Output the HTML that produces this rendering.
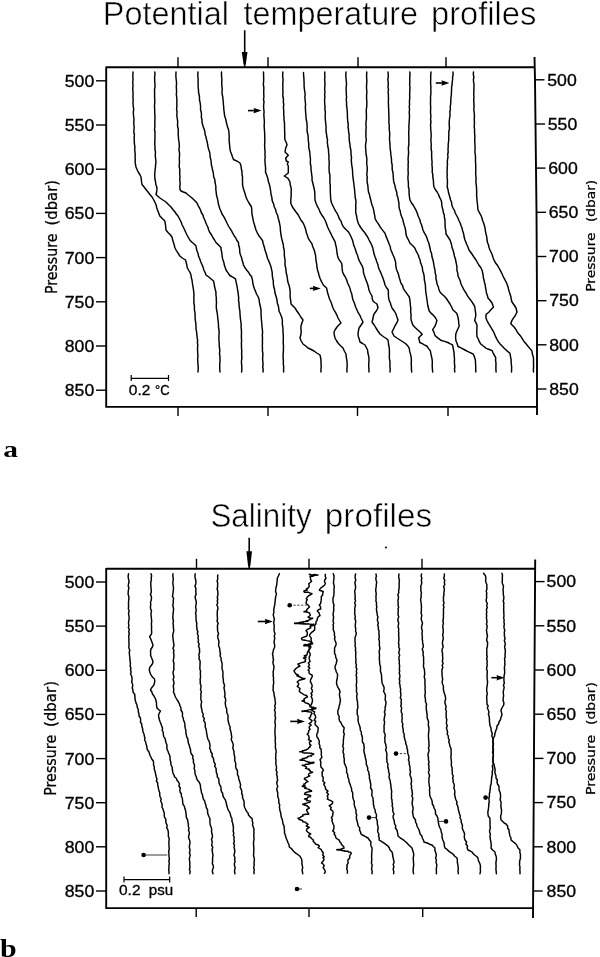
<!DOCTYPE html>
<html><head><meta charset="utf-8"><title>Potential temperature and salinity profiles</title>
<style>
html,body{margin:0;padding:0;background:#fff;}
body{width:600px;height:957px;overflow:hidden;}
svg{display:block;}
.c{fill:none;stroke:#000;stroke-width:1.45;stroke-linejoin:round;stroke-linecap:round;}
.cn{fill:none;stroke:#000;stroke-width:1.45;stroke-linejoin:round;}
.fr{fill:none;stroke:#000;stroke-width:1.9;}
.tk{stroke:#000;stroke-width:1.4;}
.ar{stroke:#000;stroke-width:1.6;}
.ah{fill:#000;}
.sbar{fill:none;stroke:#000;stroke-width:1.2;}
.thin{stroke:#222;stroke-width:0.9;}
.dash{stroke:#222;stroke-width:0.9;stroke-dasharray:2.2 1.6;}
text{font-family:"Liberation Sans",Arial,sans-serif;fill:#000;}
.tl{font-size:15.6px;stroke:#000;stroke-width:0.3px;}
.tt{font-size:32.5px;stroke:#fff;stroke-width:0.55px;}
.yl{font-size:14.2px;}
.sb{font-size:14.5px;stroke:#000;stroke-width:0.3px;}
.yt text{font-family:"DejaVu Sans","Liberation Sans",sans-serif;stroke:#000;stroke-width:0.25px;}
.pl{font-family:"Liberation Serif","Times New Roman",serif;font-weight:bold;font-size:21.8px;}
</style></head><body>
<svg width="600" height="957" viewBox="0 0 600 957">

<text x="102.8" y="25.0" class="tt" textLength="126.2" lengthAdjust="spacingAndGlyphs">Potential</text>
<text x="243.5" y="25.0" class="tt" textLength="174.4" lengthAdjust="spacingAndGlyphs">temperature</text>
<text x="431.0" y="25.0" class="tt" textLength="105.4" lengthAdjust="spacingAndGlyphs">profiles</text>
<text x="210.4" y="526.9" class="tt" textLength="101.2" lengthAdjust="spacingAndGlyphs">Salinity</text>
<text x="324.8" y="526.5" class="tt" textLength="107.4" lengthAdjust="spacingAndGlyphs">profiles</text>
<path d="M106.2 67.3 H534.7 M106.2 66.5 V406.9 H537.0" class="fr"/>
<path d="M534.5 57.0 L535.0 80.0 L536.5 212.0 L537.0 300.0 L537.0 415.0" class="fr"/>
<line x1="178.0" y1="67.3" x2="178.0" y2="57.3" class="tk"/>
<line x1="268.0" y1="67.3" x2="268.0" y2="57.3" class="tk"/>
<line x1="358.0" y1="67.3" x2="358.0" y2="57.3" class="tk"/>
<line x1="446.0" y1="67.3" x2="446.0" y2="57.3" class="tk"/>
<line x1="178.0" y1="406.9" x2="178.0" y2="415.9" class="tk"/>
<line x1="268.0" y1="406.9" x2="268.0" y2="415.9" class="tk"/>
<line x1="357.5" y1="406.9" x2="357.5" y2="415.9" class="tk"/>
<line x1="448.0" y1="406.9" x2="448.0" y2="415.9" class="tk"/>
<line x1="96.0" y1="80.8" x2="106.2" y2="80.8" class="tk"/>
<text x="94.3" y="86.7" class="tl" text-anchor="end" textLength="29.5" lengthAdjust="spacingAndGlyphs">500</text>
<line x1="96.0" y1="125.0" x2="106.2" y2="125.0" class="tk"/>
<text x="94.3" y="130.9" class="tl" text-anchor="end" textLength="29.5" lengthAdjust="spacingAndGlyphs">550</text>
<line x1="96.0" y1="169.2" x2="106.2" y2="169.2" class="tk"/>
<text x="94.3" y="175.1" class="tl" text-anchor="end" textLength="29.5" lengthAdjust="spacingAndGlyphs">600</text>
<line x1="96.0" y1="213.4" x2="106.2" y2="213.4" class="tk"/>
<text x="94.3" y="219.3" class="tl" text-anchor="end" textLength="29.5" lengthAdjust="spacingAndGlyphs">650</text>
<line x1="96.0" y1="257.6" x2="106.2" y2="257.6" class="tk"/>
<text x="94.3" y="263.5" class="tl" text-anchor="end" textLength="29.5" lengthAdjust="spacingAndGlyphs">700</text>
<line x1="96.0" y1="301.8" x2="106.2" y2="301.8" class="tk"/>
<text x="94.3" y="307.7" class="tl" text-anchor="end" textLength="29.5" lengthAdjust="spacingAndGlyphs">750</text>
<line x1="96.0" y1="346.0" x2="106.2" y2="346.0" class="tk"/>
<text x="94.3" y="351.9" class="tl" text-anchor="end" textLength="29.5" lengthAdjust="spacingAndGlyphs">800</text>
<line x1="96.0" y1="390.2" x2="106.2" y2="390.2" class="tk"/>
<text x="94.3" y="396.1" class="tl" text-anchor="end" textLength="29.5" lengthAdjust="spacingAndGlyphs">850</text>
<line x1="535.0" y1="79.8" x2="544.5" y2="79.8" class="tk"/>
<text x="547.3" y="85.5" class="tl" textLength="29.5" lengthAdjust="spacingAndGlyphs">500</text>
<line x1="535.5" y1="124.0" x2="545.0" y2="124.0" class="tk"/>
<text x="547.8" y="129.7" class="tl" textLength="29.5" lengthAdjust="spacingAndGlyphs">550</text>
<line x1="536.0" y1="168.1" x2="545.5" y2="168.1" class="tk"/>
<text x="548.3" y="173.8" class="tl" textLength="29.5" lengthAdjust="spacingAndGlyphs">600</text>
<line x1="536.5" y1="212.3" x2="546.0" y2="212.3" class="tk"/>
<text x="548.8" y="218.0" class="tl" textLength="29.5" lengthAdjust="spacingAndGlyphs">650</text>
<line x1="536.8" y1="256.5" x2="546.3" y2="256.5" class="tk"/>
<text x="549.1" y="262.2" class="tl" textLength="29.5" lengthAdjust="spacingAndGlyphs">700</text>
<line x1="537.0" y1="300.7" x2="546.5" y2="300.7" class="tk"/>
<text x="549.3" y="306.4" class="tl" textLength="29.5" lengthAdjust="spacingAndGlyphs">750</text>
<line x1="537.0" y1="344.8" x2="546.5" y2="344.8" class="tk"/>
<text x="549.3" y="350.5" class="tl" textLength="29.5" lengthAdjust="spacingAndGlyphs">800</text>
<line x1="537.0" y1="389.0" x2="546.5" y2="389.0" class="tk"/>
<text x="549.3" y="394.7" class="tl" textLength="29.5" lengthAdjust="spacingAndGlyphs">850</text>
<path d="M106.2 568.8 H535.1 M106.2 568.0 V908.1 H533.1" class="fr"/>
<path d="M535.2 559.6 L534.3 700.0 L533.0 918.0" class="fr"/>
<line x1="196.5" y1="568.8" x2="196.5" y2="558.8" class="tk"/>
<line x1="309.0" y1="568.8" x2="309.0" y2="558.8" class="tk"/>
<line x1="422.0" y1="568.8" x2="422.0" y2="558.8" class="tk"/>
<line x1="196.2" y1="908.1" x2="196.2" y2="917.1" class="tk"/>
<line x1="309.0" y1="908.1" x2="309.0" y2="917.1" class="tk"/>
<line x1="422.7" y1="908.1" x2="422.7" y2="917.1" class="tk"/>
<line x1="96.0" y1="582.0" x2="106.2" y2="582.0" class="tk"/>
<text x="94.3" y="587.9" class="tl" text-anchor="end" textLength="29.5" lengthAdjust="spacingAndGlyphs">500</text>
<line x1="96.0" y1="626.1" x2="106.2" y2="626.1" class="tk"/>
<text x="94.3" y="632.0" class="tl" text-anchor="end" textLength="29.5" lengthAdjust="spacingAndGlyphs">550</text>
<line x1="96.0" y1="670.3" x2="106.2" y2="670.3" class="tk"/>
<text x="94.3" y="676.2" class="tl" text-anchor="end" textLength="29.5" lengthAdjust="spacingAndGlyphs">600</text>
<line x1="96.0" y1="714.4" x2="106.2" y2="714.4" class="tk"/>
<text x="94.3" y="720.3" class="tl" text-anchor="end" textLength="29.5" lengthAdjust="spacingAndGlyphs">650</text>
<line x1="96.0" y1="758.6" x2="106.2" y2="758.6" class="tk"/>
<text x="94.3" y="764.5" class="tl" text-anchor="end" textLength="29.5" lengthAdjust="spacingAndGlyphs">700</text>
<line x1="96.0" y1="802.7" x2="106.2" y2="802.7" class="tk"/>
<text x="94.3" y="808.6" class="tl" text-anchor="end" textLength="29.5" lengthAdjust="spacingAndGlyphs">750</text>
<line x1="96.0" y1="846.8" x2="106.2" y2="846.8" class="tk"/>
<text x="94.3" y="852.7" class="tl" text-anchor="end" textLength="29.5" lengthAdjust="spacingAndGlyphs">800</text>
<line x1="96.0" y1="891.0" x2="106.2" y2="891.0" class="tk"/>
<text x="94.3" y="896.9" class="tl" text-anchor="end" textLength="29.5" lengthAdjust="spacingAndGlyphs">850</text>
<line x1="535.1" y1="581.6" x2="544.6" y2="581.6" class="tk"/>
<text x="546.6" y="587.3" class="tl" textLength="29.5" lengthAdjust="spacingAndGlyphs">500</text>
<line x1="534.8" y1="625.8" x2="544.3" y2="625.8" class="tk"/>
<text x="546.6" y="631.5" class="tl" textLength="29.5" lengthAdjust="spacingAndGlyphs">550</text>
<line x1="534.5" y1="670.0" x2="544.0" y2="670.0" class="tk"/>
<text x="546.6" y="675.7" class="tl" textLength="29.5" lengthAdjust="spacingAndGlyphs">600</text>
<line x1="534.2" y1="714.2" x2="543.7" y2="714.2" class="tk"/>
<text x="546.6" y="719.9" class="tl" textLength="29.5" lengthAdjust="spacingAndGlyphs">650</text>
<line x1="534.0" y1="758.4" x2="543.5" y2="758.4" class="tk"/>
<text x="546.6" y="764.1" class="tl" textLength="29.5" lengthAdjust="spacingAndGlyphs">700</text>
<line x1="533.7" y1="802.6" x2="543.2" y2="802.6" class="tk"/>
<text x="546.6" y="808.3" class="tl" textLength="29.5" lengthAdjust="spacingAndGlyphs">750</text>
<line x1="533.4" y1="846.8" x2="542.9" y2="846.8" class="tk"/>
<text x="546.6" y="852.5" class="tl" textLength="29.5" lengthAdjust="spacingAndGlyphs">800</text>
<line x1="533.2" y1="891.0" x2="542.7" y2="891.0" class="tk"/>
<text x="546.6" y="896.7" class="tl" textLength="29.5" lengthAdjust="spacingAndGlyphs">850</text>
<g transform="translate(57.0 294.1) rotate(-90)" style="font-size:15.0px" class="yt"><text x="0" y="0" textLength="60.5" lengthAdjust="spacingAndGlyphs">Pressure</text><text x="68.6" y="0" textLength="45.5" lengthAdjust="spacingAndGlyphs">(dbar)</text></g>
<g transform="translate(595.3 291.8) rotate(-90)" style="font-size:12.8px" class="yt"><text x="0" y="0" textLength="59.5" lengthAdjust="spacingAndGlyphs">Pressure</text><text x="69.8" y="0" textLength="42.2" lengthAdjust="spacingAndGlyphs">(dbar)</text></g>
<g transform="translate(56.2 795.8) rotate(-90)" style="font-size:15.0px" class="yt"><text x="0" y="0" textLength="61.0" lengthAdjust="spacingAndGlyphs">Pressure</text><text x="68.8" y="0" textLength="46.0" lengthAdjust="spacingAndGlyphs">(dbar)</text></g>
<g transform="translate(594.6 794.9) rotate(-90)" style="font-size:12.8px" class="yt"><text x="0" y="0" textLength="60.0" lengthAdjust="spacingAndGlyphs">Pressure</text><text x="70.0" y="0" textLength="42.8" lengthAdjust="spacingAndGlyphs">(dbar)</text></g>
<line x1="244.7" y1="30.3" x2="244.7" y2="67.0" class="ar"/><polygon points="241.8,52.0 247.5,52.0 245.8,64.5 243.6,64.5" class="ah"/>
<line x1="248.0" y1="110.6" x2="257.5" y2="110.6" class="ar"/><polygon points="261.5,110.6 253.5,107.9 254.3,110.6 253.5,113.3" class="ah"/>
<line x1="435.8" y1="83.0" x2="445.4" y2="83.0" class="ar"/><polygon points="449.4,83.0 441.4,80.3 442.2,83.0 441.4,85.7" class="ah"/>
<line x1="309.8" y1="288.4" x2="316.8" y2="288.4" class="ar"/><polygon points="320.8,288.4 312.8,285.7 313.6,288.4 312.8,291.1" class="ah"/>
<line x1="249.2" y1="537.8" x2="249.2" y2="568.8" class="ar"/><polygon points="246.4,551.3 252.0,551.3 250.3,566.3 248.1,566.3" class="ah"/>
<line x1="257.8" y1="621.5" x2="268.8" y2="621.5" class="ar"/><polygon points="272.8,621.5 264.8,618.8 265.6,621.5 264.8,624.2" class="ah"/>
<line x1="290.2" y1="721.4" x2="301.0" y2="721.4" class="ar"/><polygon points="305.0,721.4 297.0,718.7 297.8,721.4 297.0,724.1" class="ah"/>
<line x1="491.4" y1="677.7" x2="500.5" y2="677.7" class="ar"/><polygon points="504.5,677.7 496.5,675.0 497.3,677.7 496.5,680.4" class="ah"/>
<path d="M131.2 378.3 H168.5 M131.2 375 V381 M168.5 375 V381" class="sbar"/>
<text x="128.8" y="395" class="sb" textLength="21.6" lengthAdjust="spacingAndGlyphs">0.2</text>
<text x="155" y="395" class="sb" textLength="14.6" lengthAdjust="spacingAndGlyphs">°C</text>
<path d="M124 879.7 H169.7 M124 876.5 V882.5 M169.7 876.5 V882.5" class="sbar"/>
<text x="119" y="895.3" class="sb" textLength="21.5" lengthAdjust="spacingAndGlyphs">0.2</text>
<text x="148.8" y="895.3" class="sb" textLength="24.4" lengthAdjust="spacingAndGlyphs">psu</text>
<text x="0" y="0" class="pl" transform="translate(3.2 457.3) scale(1.28 1)" style="font-size:23px">a</text>
<text x="0" y="0" class="pl" transform="translate(0 956.8) scale(1.2 1)" style="font-size:25px">b</text>
<path d="M133.0 72.0 132.9 74.5 132.8 77.0 133.1 79.5 132.7 82.0 133.0 84.5 132.9 87.0 132.7 89.5 133.0 92.0 133.1 94.5 132.9 97.0 133.2 99.5 133.0 102.0 133.1 104.5 133.4 107.0 133.7 109.5 133.3 112.0 133.4 114.5 133.7 117.0 134.0 119.5 133.8 122.0 133.8 124.5 134.2 127.0 134.0 129.5 133.8 132.0 134.4 134.5 134.2 137.0 134.2 139.5 134.3 142.0 134.5 144.5 134.9 147.0 134.7 149.5 135.0 152.0 135.2 154.5 135.1 157.0 135.3 159.5 135.1 162.0 135.5 164.5 136.0 167.0 137.0 169.5 138.2 172.0 139.8 174.5 141.0 177.0 141.3 179.5 141.6 182.0 142.0 184.5 144.1 187.0 146.0 189.5 148.0 192.0 149.9 194.5 152.0 197.0 153.5 199.5 154.8 202.0 156.0 204.5 156.6 207.2 157.5 210.0 158.7 213.0 159.8 216.0 162.3 218.5 164.8 221.0 165.4 224.0 165.7 227.0 166.0 230.0 168.0 232.5 170.5 235.0 172.2 237.5 172.6 240.0 173.5 242.5 174.3 245.0 174.8 247.5 176.2 250.3 178.1 253.2 179.8 256.0 182.3 258.0 185.5 260.0 186.2 262.5 186.8 265.0 187.2 267.5 188.5 270.0 190.0 272.5 191.0 275.0 191.3 277.5 192.0 280.0 192.3 282.5 192.7 285.0 193.1 287.5 193.5 290.0 193.8 292.5 194.0 295.0 193.8 297.5 194.0 300.0 193.8 302.5 194.3 305.0 194.4 307.5 194.4 310.0 195.0 312.7 195.1 315.3 195.1 318.0 195.4 320.7 195.8 323.3 196.0 326.0 196.0 328.8 196.6 331.6 196.8 334.4 197.1 337.2 197.6 340.0 197.4 342.7 197.8 345.3 197.5 348.0 197.6 350.7 197.7 353.3 198.0 356.0 197.6 358.7 197.8 361.3 197.9 364.0 198.2 366.7 198.2 369.3 198.0 372.0" class="c"/>
<path d="M154.8 72.0 155.0 74.5 154.6 77.0 154.7 79.5 154.7 82.0 155.0 84.5 155.0 87.0 154.5 89.5 154.6 92.0 154.6 94.5 154.6 97.0 154.7 99.5 154.8 102.0 154.6 104.5 154.5 107.0 154.7 109.5 154.7 112.0 154.8 114.5 155.0 117.0 154.9 119.5 154.8 122.0 154.8 124.5 154.9 127.0 154.5 129.5 155.0 132.0 154.9 134.5 155.0 137.0 154.9 139.5 154.8 142.0 154.8 144.5 155.0 147.0 155.0 149.5 155.5 152.0 155.3 154.5 155.4 157.0 155.7 159.5 156.0 162.0 155.6 164.5 155.5 167.0 155.1 169.5 154.9 172.0 154.7 174.5 154.8 177.0 155.0 179.5 155.6 182.0 155.8 184.5 156.8 187.0 157.0 189.5 156.6 192.0 156.0 194.5 157.8 196.2 160.0 198.0 162.9 200.0 166.0 202.0 168.4 204.5 171.0 207.0 172.9 209.5 175.0 212.0 176.3 214.0 178.0 216.0 179.6 219.0 181.1 222.0 182.2 225.0 183.5 227.5 184.7 230.0 185.8 232.5 187.0 235.0 188.4 237.5 189.8 240.0 191.7 242.0 194.1 244.0 196.0 246.0 196.4 248.5 197.0 251.0 198.1 253.5 198.5 256.0 199.8 259.0 200.8 262.0 202.2 265.0 203.2 267.5 203.8 270.0 205.1 272.5 206.0 275.0 208.8 277.0 211.2 279.0 213.5 281.0 214.2 283.9 214.6 286.8 215.3 289.6 216.0 292.5 215.9 295.0 216.3 297.5 216.3 300.0 216.5 302.5 216.3 305.0 216.3 307.5 216.6 310.0 217.1 312.5 217.5 315.0 217.7 317.5 218.0 320.0 218.3 322.5 218.5 325.0 218.5 327.5 219.0 330.0 219.1 332.6 219.0 335.2 218.9 337.9 219.0 340.5 219.2 343.1 219.2 345.8 219.6 348.4 219.8 351.0 219.5 353.6 219.9 356.2 220.0 358.9 220.0 361.5 219.7 364.1 219.7 366.8 219.8 369.4 220.0 372.0" class="c"/>
<path d="M176.0 72.0 175.9 74.5 175.9 77.0 176.2 79.5 176.5 82.0 176.5 84.5 176.3 87.0 176.5 89.5 176.6 92.0 176.3 94.5 176.7 97.0 176.9 99.5 176.8 102.0 176.9 104.5 176.8 107.0 176.6 109.5 177.1 112.0 176.8 114.5 177.0 117.0 177.4 119.5 177.7 122.0 177.5 124.5 177.7 127.0 178.3 129.5 178.3 132.0 178.2 134.5 178.4 137.0 178.6 139.5 179.0 142.0 179.3 144.5 179.3 147.0 178.9 149.5 179.4 152.0 179.6 154.5 179.4 157.0 179.3 159.5 179.5 162.0 179.3 164.5 179.2 167.0 179.9 169.5 179.7 172.0 179.7 174.5 180.0 177.0 179.7 179.5 180.1 182.0 180.1 184.5 179.8 187.0 180.0 189.5 181.0 191.0 183.4 192.0 186.0 193.0 187.9 194.7 189.8 196.3 192.0 198.0 194.6 200.5 197.0 203.0 198.0 205.3 199.3 207.7 200.5 210.0 201.3 212.5 202.9 215.0 203.6 217.5 204.8 220.0 205.7 222.5 206.8 225.0 208.0 227.5 208.7 230.0 209.8 232.5 211.6 235.0 212.9 237.5 214.5 240.0 216.0 242.5 218.5 245.0 221.0 247.5 221.1 250.0 221.8 252.5 222.0 255.0 222.3 257.5 223.0 260.0 223.9 262.5 224.3 265.0 225.2 267.5 226.0 270.0 228.0 272.8 229.8 275.5 232.7 277.1 235.5 278.8 236.0 281.7 236.7 284.6 237.2 287.5 238.0 292.0 238.3 294.8 238.7 297.5 238.5 300.2 239.0 303.0 239.1 305.8 239.4 308.5 239.9 311.2 240.0 314.0 240.2 316.7 240.5 319.3 240.9 322.0 241.2 324.7 241.1 327.3 241.4 330.0 241.5 332.6 241.4 335.2 241.4 337.9 241.6 340.5 241.4 343.1 241.5 345.8 241.5 348.4 241.8 351.0 241.6 353.6 241.8 356.2 241.8 358.9 241.4 361.5 241.6 364.1 241.8 366.8 241.8 369.4 241.6 372.0" class="c"/>
<path d="M198.0 72.0 197.8 74.5 197.9 77.0 198.2 79.5 198.0 82.0 198.2 84.5 198.1 87.0 198.5 89.5 198.5 92.0 199.0 94.5 199.5 97.0 199.4 99.5 200.0 102.0 200.4 104.5 200.6 107.0 200.5 109.5 201.2 112.0 201.5 114.5 201.3 117.0 202.0 119.5 202.0 122.0 202.6 124.5 203.3 127.0 204.3 129.5 204.9 132.0 205.1 134.5 206.0 137.0 206.5 139.5 207.2 142.0 207.6 144.5 208.1 147.0 208.7 149.5 209.6 152.0 210.0 154.5 210.1 157.0 210.8 159.5 211.2 162.0 211.3 164.5 212.0 167.0 212.4 169.5 213.1 172.0 213.5 174.5 213.7 177.0 214.8 179.5 215.0 182.0 215.5 184.5 215.9 187.0 215.8 189.5 216.2 192.0 216.4 194.5 217.0 197.0 217.8 200.0 218.2 203.0 219.0 206.0 219.8 208.7 221.0 211.3 222.0 214.0 223.6 216.3 224.9 218.7 226.0 221.0 227.2 223.5 228.5 226.0 230.0 228.5 231.6 230.8 232.7 233.2 234.0 235.5 235.6 237.8 236.8 240.2 238.5 242.5 238.6 245.0 239.4 247.5 239.7 250.0 239.8 252.5 240.5 255.0 241.5 257.5 242.1 260.0 242.9 262.5 243.5 265.0 245.0 267.8 247.0 270.5 248.7 272.5 249.7 274.5 251.5 276.5 252.4 279.7 252.8 282.8 253.5 286.0 254.4 288.7 255.5 291.3 256.5 294.0 258.0 296.5 259.0 299.0 259.4 301.8 259.8 304.5 260.5 307.2 261.0 310.0 261.0 312.5 261.1 315.0 261.3 317.5 261.4 320.0 261.7 322.5 261.9 325.0 262.1 327.5 262.4 330.0 262.6 332.6 262.3 335.2 262.5 337.9 262.4 340.5 262.5 343.1 262.3 345.8 262.5 348.4 262.4 351.0 262.9 353.6 262.8 356.2 262.6 358.9 262.8 361.5 263.1 364.1 262.7 366.8 263.2 369.4 263.0 372.0" class="c"/>
<path d="M221.5 72.0 221.5 74.5 221.6 77.0 221.9 79.5 221.7 82.0 221.8 84.5 222.0 87.0 222.2 89.5 222.0 92.0 222.2 94.5 222.8 97.0 223.0 99.5 223.3 102.0 223.4 104.5 223.7 107.0 223.8 109.5 224.2 112.0 224.4 114.5 225.0 117.0 225.8 119.5 226.3 122.0 226.9 124.5 227.6 127.0 228.5 129.5 228.9 132.0 229.1 134.5 229.2 137.0 229.1 139.5 229.3 142.0 229.5 144.5 229.8 147.0 230.0 149.5 230.7 152.0 231.7 154.5 232.5 157.0 233.5 159.5 237.0 161.2 240.0 163.0 241.0 166.0 241.4 169.0 242.0 172.0 242.0 174.5 242.6 177.0 242.4 179.5 242.6 182.0 242.5 184.5 243.0 187.0 243.7 189.5 244.5 192.0 245.3 194.5 246.0 197.0 247.3 200.0 249.0 203.0 251.5 207.0 251.8 210.2 251.9 213.5 252.5 216.7 253.0 219.2 253.5 221.7 254.3 224.2 255.0 226.7 256.0 230.0 257.5 233.3 258.9 235.7 260.7 238.1 262.5 240.5 263.2 243.7 264.2 246.8 265.0 250.0 265.9 252.8 266.8 255.5 267.5 258.3 268.8 261.1 270.0 264.0 271.0 267.0 271.7 270.0 272.2 272.7 272.3 275.3 272.6 278.0 273.3 280.6 273.3 283.3 273.7 286.5 274.6 289.8 275.0 293.0 276.1 296.5 277.0 300.0 277.2 302.8 278.2 305.5 278.7 308.2 279.0 311.0 280.1 313.3 281.1 315.7 282.0 318.0 282.4 321.0 282.3 324.0 282.8 327.0 283.0 330.0 283.0 332.6 283.3 335.2 283.3 337.9 283.3 340.5 283.2 343.1 283.5 345.8 283.4 348.4 283.4 351.0 283.2 353.6 283.1 356.2 283.2 358.9 283.4 361.5 283.3 364.1 283.7 366.8 283.6 369.4 283.6 372.0" class="c"/>
<path d="M263.5 72.0 263.6 74.5 263.6 77.0 263.7 79.5 263.6 82.0 263.3 84.5 263.8 87.0 263.8 89.5 263.7 92.0 263.8 94.5 263.9 97.0 263.5 99.5 264.0 102.0 263.7 104.5 263.6 107.0 263.8 109.5 264.1 112.0 263.8 114.5 264.0 117.0 264.2 119.5 264.4 122.0 264.2 124.5 264.2 127.0 264.4 129.5 264.6 132.0 264.7 134.5 264.7 137.0 264.8 139.5 264.8 142.0 264.6 144.5 264.7 147.0 264.8 149.5 265.1 152.0 264.9 154.5 265.2 157.0 264.9 159.5 265.0 162.0 265.2 164.5 265.5 167.0 265.6 169.5 265.5 172.0 267.0 176.0 267.9 178.8 268.4 181.5 269.3 184.2 270.0 187.0 270.4 189.5 270.8 192.0 271.0 194.5 271.8 197.0 272.0 199.5 272.6 201.9 273.8 204.3 274.2 206.7 275.6 209.5 276.1 212.2 277.5 215.0 278.3 218.3 279.2 221.7 279.8 224.6 280.3 227.5 280.4 230.4 280.8 233.3 281.2 236.1 281.8 238.9 282.5 241.7 283.3 244.5 283.5 247.2 284.2 250.0 284.4 252.7 284.3 255.3 284.7 258.0 285.1 260.6 285.0 263.3 285.1 265.8 285.8 268.3 286.0 270.8 286.3 273.3 287.0 275.8 287.4 278.3 287.6 280.8 288.3 283.3 289.4 286.6 290.0 290.0 290.2 292.8 290.1 295.6 290.3 298.4 290.8 301.2 291.0 304.0 293.0 306.0 295.0 308.0 296.9 311.0 299.0 314.0 300.8 317.0 303.0 320.0 301.9 323.0 301.0 326.0 300.9 328.7 301.2 331.3 301.0 334.0 300.0 338.0 301.2 341.0 303.0 344.0 305.7 346.0 308.0 348.0 311.2 349.5 314.0 351.0 316.8 353.0 320.0 355.0 320.8 358.5 321.0 362.0 321.1 364.5 321.2 367.0 320.9 369.5 321.0 372.0" class="c"/>
<path d="M282.8 72.0 282.7 74.5 282.7 77.0 283.1 79.5 282.9 82.0 282.8 84.5 282.9 87.0 282.8 89.5 283.0 92.0 282.8 94.5 283.0 97.0 283.5 99.5 283.3 102.0 283.8 104.5 283.4 107.0 283.6 109.5 283.8 112.0 283.7 114.5 284.0 117.0 284.0 119.8 284.5 122.6 284.5 125.4 284.6 128.3 284.6 131.1 284.8 133.9 284.7 136.7 285.0 140.0 286.3 142.5 287.0 145.0 285.7 148.0 285.0 152.0 288.3 155.3 285.7 158.0 286.3 161.0 288.3 162.0 287.3 164.0 288.3 166.0 288.3 169.5 288.3 173.0 286.4 174.5 284.3 176.0 288.0 178.3 290.0 182.0 290.2 184.7 291.0 187.3 291.3 190.0 291.1 192.5 291.2 195.0 291.0 197.5 290.8 200.0 290.8 203.3 291.9 205.8 293.3 208.3 295.8 211.7 298.3 215.0 300.0 218.3 301.4 220.8 303.3 223.3 304.8 226.7 305.8 230.0 306.4 232.8 307.4 235.5 308.3 238.3 309.9 240.8 311.7 243.3 312.8 246.7 314.2 250.0 314.9 252.8 315.6 255.5 315.8 258.3 316.1 261.2 316.7 264.1 317.0 267.1 317.5 270.0 318.4 272.8 319.1 275.5 320.0 278.3 321.5 281.6 323.3 285.0 326.7 288.3 327.3 291.6 328.3 295.0 329.0 297.5 330.0 300.0 331.2 302.5 332.0 305.0 332.8 307.5 334.0 310.0 335.6 312.7 337.0 315.3 338.0 318.0 339.5 320.5 341.0 323.0 338.8 325.0 337.0 327.0 335.3 329.5 334.0 332.0 334.3 335.0 335.0 338.0 336.4 340.5 338.0 343.0 340.3 345.5 343.0 348.0 344.3 351.0 346.0 354.0 346.2 356.7 346.7 359.3 347.0 362.0 347.2 364.5 347.1 367.0 346.9 369.5 347.0 372.0" class="c"/>
<path d="M303.5 72.5 303.6 75.3 303.9 78.1 304.0 80.9 304.1 83.6 304.1 86.4 304.4 89.2 304.8 92.0 305.2 94.5 304.8 97.0 305.1 99.5 305.3 102.0 305.6 104.5 305.3 107.0 305.5 109.5 305.6 112.0 305.8 114.5 306.0 117.0 306.2 119.5 306.8 122.0 307.0 124.5 307.2 127.0 307.0 129.5 307.2 132.0 307.9 134.5 308.2 137.0 308.2 139.5 308.5 142.0 308.8 144.5 308.7 147.0 309.2 149.5 309.8 152.0 309.9 154.5 310.2 157.0 310.5 159.5 310.3 162.0 310.5 164.5 311.0 167.0 311.0 169.6 311.4 172.2 311.7 174.8 312.1 177.4 312.0 180.0 312.8 183.0 313.5 186.0 314.2 189.0 314.8 192.0 314.8 194.7 314.9 197.3 315.0 200.0 316.0 203.3 317.5 206.7 319.1 209.5 320.1 212.2 321.7 215.0 323.6 217.5 325.0 220.0 326.3 223.3 327.5 226.7 329.0 230.0 330.8 233.3 332.0 236.1 333.5 238.9 335.0 241.7 335.6 244.5 336.3 247.2 336.7 250.0 337.0 252.8 337.5 255.5 338.3 258.3 340.0 260.8 341.7 263.3 342.0 266.1 342.2 268.9 342.5 271.7 343.7 274.5 345.4 277.2 346.7 280.0 347.5 282.8 348.8 285.5 350.0 288.3 350.7 291.2 351.8 294.1 352.3 297.1 353.0 300.0 354.2 302.5 355.0 305.0 355.8 307.5 357.0 310.0 358.2 312.7 359.9 315.3 361.0 318.0 363.0 322.0 361.1 325.0 359.0 328.0 358.4 331.0 358.0 334.0 358.4 336.7 359.3 339.3 360.0 342.0 362.6 343.5 365.0 345.0 366.3 347.5 367.6 350.0 367.8 352.5 368.4 355.0 368.9 357.5 369.0 360.0 368.8 363.0 368.7 366.0 368.9 369.0 369.0 372.0" class="c"/>
<path d="M324.8 72.0 324.7 74.5 324.9 77.0 324.6 79.5 324.9 82.0 324.9 84.5 324.8 87.0 324.6 89.5 325.0 92.0 324.6 94.5 324.9 97.0 324.6 99.5 324.6 102.0 324.8 104.5 325.0 107.0 324.9 109.5 325.4 112.0 325.2 114.5 325.2 117.0 325.3 119.5 325.6 122.0 325.8 124.5 326.1 127.0 326.0 129.5 326.1 132.0 326.6 134.5 326.8 137.0 327.5 139.5 327.3 142.0 327.6 144.5 327.9 147.0 328.5 149.5 328.5 152.0 328.9 154.5 328.9 157.0 328.9 159.5 329.2 162.0 329.2 164.5 329.0 167.0 329.1 169.6 329.2 172.2 329.9 174.8 329.9 177.4 330.0 180.0 329.8 182.5 330.3 185.0 330.2 187.5 330.3 190.0 330.3 192.5 330.5 195.0 330.6 198.0 331.0 201.0 331.7 203.3 332.9 205.7 334.0 208.0 335.3 210.7 337.1 213.3 338.3 216.0 339.3 218.7 341.1 221.3 341.9 224.0 343.3 226.7 345.7 229.2 348.3 231.7 350.2 235.0 351.7 238.3 352.7 240.8 353.3 243.3 353.9 245.8 355.0 248.3 355.8 250.8 356.6 253.3 357.7 255.8 358.3 258.3 359.5 261.1 361.0 263.9 362.5 266.7 363.3 269.5 363.4 272.2 364.2 275.0 365.4 278.4 366.7 281.7 367.7 284.5 368.4 287.2 369.0 290.0 370.2 293.0 372.0 296.0 372.2 298.5 373.0 301.0 374.7 302.5 377.0 304.0 378.0 308.0 376.3 311.0 374.0 314.0 373.2 316.7 372.8 319.3 372.0 322.0 374.2 325.0 376.0 328.0 377.9 331.0 380.0 334.0 381.9 335.5 384.0 337.0 386.3 338.5 388.0 340.0 388.4 342.5 388.6 345.0 389.2 347.5 389.4 350.0 389.4 352.8 389.4 355.5 389.3 358.2 389.9 361.0 390.0 363.8 389.9 366.5 390.2 369.2 390.0 372.0" class="c"/>
<path d="M346.0 72.0 345.8 74.5 345.9 77.0 346.1 79.5 346.4 82.0 346.5 84.5 346.2 87.0 346.1 89.5 346.3 92.0 346.3 94.5 346.6 97.0 346.2 99.5 346.6 102.0 346.5 104.5 346.8 107.0 347.1 109.5 347.3 112.0 347.4 114.5 347.4 117.0 347.6 119.5 347.8 122.0 348.3 124.5 348.0 127.0 348.5 129.5 348.6 132.0 349.2 134.5 349.1 137.0 349.2 139.5 349.5 142.0 350.0 144.5 350.1 147.0 350.8 149.5 351.0 152.0 351.0 154.5 351.5 157.1 351.3 159.6 351.4 162.2 351.7 164.7 352.1 167.2 352.5 169.8 352.6 172.3 352.7 174.9 353.0 177.4 353.3 180.0 353.7 182.5 354.0 185.0 354.3 187.5 354.6 190.0 354.8 192.5 355.0 195.0 355.2 197.5 355.8 200.0 356.0 202.7 355.7 205.3 355.8 208.0 355.7 210.6 355.8 213.3 356.6 215.8 356.9 218.3 357.5 220.8 358.3 223.3 359.5 225.5 360.9 227.8 362.5 230.0 364.4 232.2 365.9 234.5 367.5 236.7 368.8 239.5 370.2 242.2 371.7 245.0 372.8 247.9 373.4 250.8 374.0 253.8 375.0 256.7 376.0 259.2 376.7 261.7 377.8 264.2 378.3 266.7 379.2 269.5 380.6 272.2 381.7 275.0 382.7 277.5 383.6 280.0 384.4 282.5 385.0 285.0 386.4 287.5 388.3 290.0 388.4 292.5 388.4 295.0 388.6 297.5 389.0 300.0 390.3 302.7 391.0 305.3 392.0 308.0 394.3 311.0 396.0 314.0 396.9 317.0 398.0 320.0 396.9 322.7 395.3 325.3 394.0 328.0 392.0 332.0 394.0 336.0 396.9 338.0 400.0 340.0 403.2 342.0 406.0 344.0 407.9 346.1 409.3 348.3 409.7 351.4 410.6 354.6 411.2 357.7 411.4 360.6 411.2 363.4 411.4 366.3 411.4 369.1 411.7 372.0" class="c"/>
<path d="M366.8 72.0 366.6 74.5 366.6 77.0 366.8 79.5 366.8 82.0 366.6 84.5 366.5 87.0 366.6 89.5 366.9 92.0 366.6 94.5 366.6 97.0 366.6 99.5 366.9 102.0 366.8 104.5 366.7 107.0 366.3 109.5 366.3 112.0 366.4 114.5 366.4 117.0 366.4 119.5 366.0 122.0 365.9 124.5 366.2 127.0 366.0 129.5 365.9 132.0 365.9 134.5 365.9 137.0 366.3 139.5 366.0 142.0 365.6 144.5 365.5 147.0 365.8 149.5 365.9 152.0 366.1 154.5 366.6 157.0 366.9 159.5 366.7 162.0 366.8 164.5 367.2 167.0 367.3 169.6 367.0 172.2 366.8 174.8 367.3 177.4 367.0 180.0 367.3 183.0 367.9 186.0 368.1 189.0 368.5 192.0 369.5 194.7 370.0 197.3 370.8 200.0 371.4 202.8 372.2 205.5 373.3 208.3 373.8 210.8 374.2 213.3 374.8 215.8 375.0 218.3 376.4 221.1 378.4 223.9 380.0 226.7 381.6 228.9 383.3 231.1 385.0 233.3 385.9 236.1 387.1 238.9 388.3 241.7 389.2 244.2 390.3 246.7 390.6 249.2 391.7 251.7 392.8 254.5 394.1 257.2 395.0 260.0 395.7 262.5 395.7 265.0 396.1 267.5 396.7 270.0 397.8 272.5 398.6 275.0 399.2 277.5 400.0 280.0 400.8 282.8 402.5 285.5 403.3 288.3 404.9 290.8 406.7 293.3 409.3 297.0 409.9 300.1 410.2 303.2 410.5 306.3 410.8 309.1 410.6 311.9 411.1 314.7 410.9 317.5 411.2 320.3 412.8 325.0 415.1 327.4 417.5 329.7 420.1 332.0 422.2 334.3 418.7 337.8 419.8 342.5 422.3 343.7 424.3 344.8 426.8 346.0 428.4 348.4 430.3 350.7 430.9 353.8 431.6 356.9 432.2 360.0 432.3 363.0 432.2 366.0 432.4 369.0 432.7 372.0" class="c"/>
<path d="M388.0 72.0 388.2 74.5 388.3 77.0 387.8 79.5 388.2 82.0 388.3 84.5 388.0 87.0 388.5 89.5 388.1 92.0 388.4 94.5 388.4 97.0 388.5 99.5 388.3 102.0 388.5 104.5 388.5 107.0 388.7 109.5 388.7 112.0 388.9 114.5 388.9 117.0 389.0 119.5 388.8 122.0 389.2 124.5 389.2 127.0 389.2 129.5 389.6 132.0 389.7 134.5 389.6 137.0 389.5 139.5 389.8 142.0 390.0 144.5 390.0 147.0 390.3 149.5 390.7 152.0 390.8 154.5 391.2 157.0 391.5 159.5 391.5 162.0 392.1 164.5 392.2 167.0 392.2 169.6 392.9 172.2 393.2 174.8 393.3 177.4 393.5 180.0 393.9 182.5 394.8 185.0 395.3 187.5 396.0 190.0 396.8 192.5 396.9 195.0 397.9 197.5 398.3 200.0 398.9 202.8 399.0 205.5 399.2 208.3 400.2 211.1 400.7 213.9 401.7 216.7 402.8 219.5 403.4 222.2 404.2 225.0 405.1 227.9 405.7 230.8 405.9 233.8 406.7 236.7 408.5 240.0 410.0 243.3 412.8 245.8 415.0 248.3 416.4 251.7 418.3 255.0 419.0 257.5 420.1 260.0 420.5 262.5 421.5 265.0 422.4 267.9 422.7 270.9 423.7 273.8 424.2 276.7 424.3 279.5 424.9 282.4 425.4 285.2 425.5 288.0 425.7 291.0 426.1 294.0 426.6 297.0 427.0 300.0 427.4 302.8 427.8 305.5 428.5 308.2 429.2 311.0 431.3 313.4 433.8 315.7 435.6 318.0 436.9 320.3 436.1 323.2 435.0 326.2 432.7 329.7 434.1 332.6 435.0 335.5 437.7 337.9 440.8 340.2 444.5 341.4 447.8 342.5 449.9 343.6 452.5 344.8 453.1 347.5 453.6 350.3 454.1 353.0 454.1 355.7 454.5 358.4 454.4 361.1 454.5 363.9 454.8 366.6 454.5 369.3 454.8 372.0" class="c"/>
<path d="M409.8 72.0 410.0 74.5 409.8 77.0 409.7 79.5 409.9 82.0 409.6 84.5 410.0 87.0 409.8 89.5 409.8 92.0 409.6 94.5 409.8 97.0 409.6 99.5 409.4 102.0 409.6 104.5 409.2 107.0 409.6 109.5 409.2 112.0 409.4 114.5 409.5 117.0 409.3 119.5 409.2 122.0 409.0 124.5 408.8 127.0 409.0 129.5 408.7 132.0 408.7 134.5 408.9 137.0 408.8 139.5 408.8 142.0 408.9 144.5 408.4 147.0 408.4 149.5 408.6 152.0 408.5 154.5 408.2 157.0 408.1 159.5 408.3 162.0 408.1 164.5 408.2 167.0 408.0 169.5 408.2 172.0 408.2 174.5 407.9 177.0 408.0 179.5 408.3 182.0 408.4 184.5 408.4 187.0 409.1 189.5 409.0 192.0 409.2 194.7 409.5 197.3 410.0 200.0 411.4 202.8 413.4 205.5 415.0 208.3 416.2 210.6 417.2 213.0 417.9 215.3 418.9 217.7 420.0 220.0 420.5 222.5 421.6 225.0 422.3 227.5 423.0 230.0 424.2 232.7 425.8 235.3 427.0 238.0 427.7 240.5 428.8 243.0 429.4 245.5 430.0 248.0 430.6 251.0 431.7 254.0 432.0 257.0 433.0 260.0 433.5 262.5 433.9 265.0 434.3 267.5 435.0 270.0 435.1 272.8 436.0 275.6 435.9 278.4 436.6 281.2 437.0 284.0 438.3 286.7 438.8 289.3 440.0 292.0 441.8 294.0 444.1 296.0 446.0 298.0 448.0 301.0 450.0 304.0 451.6 307.0 453.0 310.0 456.7 313.3 457.8 316.6 458.5 320.0 458.7 323.0 459.2 326.0 458.0 328.7 456.8 331.3 455.8 334.0 455.6 337.5 456.0 341.0 457.2 343.8 458.0 346.5 460.5 347.7 462.8 348.8 465.0 350.0 467.5 351.4 470.7 352.8 473.3 354.2 474.5 357.1 475.4 360.0 475.5 363.0 475.7 366.0 475.7 369.0 475.8 372.0" class="c"/>
<path d="M431.0 72.0 430.8 74.5 430.7 77.0 430.7 79.5 430.6 82.0 430.7 84.5 430.9 87.0 430.8 89.5 430.9 92.0 430.8 94.5 430.5 97.0 430.6 99.5 430.5 102.0 430.5 104.5 430.7 107.0 430.6 109.5 430.5 112.0 430.7 114.5 430.9 117.0 430.5 119.5 431.0 122.0 430.5 124.5 430.7 127.0 430.7 129.5 431.0 132.0 431.2 134.5 431.1 137.0 430.9 139.5 431.0 142.0 431.3 144.5 431.1 147.0 431.2 149.5 431.7 152.0 431.6 154.5 431.7 157.0 431.8 159.5 432.1 162.0 431.9 164.5 432.2 167.0 432.3 169.5 432.2 172.0 432.8 174.5 432.8 177.0 433.3 179.5 433.5 182.0 433.6 184.5 434.0 187.0 435.3 189.5 437.1 192.0 438.5 194.5 439.5 197.2 441.0 200.0 441.7 202.5 441.8 205.0 442.2 207.5 443.0 210.0 443.3 212.5 444.3 215.0 444.4 217.5 445.0 220.0 445.0 222.8 445.1 225.6 445.3 228.4 445.9 231.2 446.0 234.0 448.1 237.0 450.0 240.0 450.9 242.5 451.6 245.0 452.0 247.5 453.0 250.0 453.8 253.0 454.4 256.0 455.4 259.0 456.0 262.0 456.6 264.8 457.0 267.6 456.9 270.4 457.8 273.2 458.0 276.0 459.2 278.5 460.3 281.0 460.8 283.5 462.0 286.0 463.2 288.3 464.4 290.7 466.0 293.0 467.7 296.1 470.0 299.3 471.8 301.6 473.3 304.0 474.7 306.3 475.1 309.4 475.6 312.6 475.8 315.7 474.7 320.3 475.9 322.6 477.0 325.0 476.9 327.9 476.8 330.9 476.8 333.8 477.0 336.7 478.3 339.0 479.2 341.4 480.5 343.7 483.3 346.0 486.3 348.3 489.2 349.5 492.2 350.7 493.1 353.0 494.4 355.4 495.7 357.7 495.6 360.6 496.0 363.4 495.9 366.3 495.9 369.1 496.1 372.0" class="c"/>
<path d="M453.0 72.0 453.1 74.5 452.6 77.0 452.6 79.5 452.2 82.0 452.1 84.5 451.6 87.0 451.6 89.5 451.4 92.0 451.4 94.5 451.0 97.0 450.8 99.5 450.8 102.0 450.6 104.5 450.2 107.0 450.4 109.5 449.8 112.0 450.1 114.5 449.8 117.0 449.4 119.5 449.2 122.0 449.2 124.5 449.4 127.0 449.4 129.5 448.7 132.0 448.9 134.5 448.7 137.0 448.8 139.5 448.5 142.0 448.2 144.5 448.2 147.0 448.0 149.5 448.2 152.0 447.7 154.5 448.0 157.0 447.5 159.5 447.3 162.0 447.5 164.5 447.2 167.0 447.2 169.5 447.0 172.0 447.3 174.5 447.0 177.0 447.4 179.5 447.4 182.0 447.4 184.5 447.2 187.0 448.0 189.5 448.4 192.0 449.1 194.5 449.8 197.0 450.5 199.8 451.6 202.5 451.9 205.2 453.0 208.0 454.5 210.5 455.2 213.0 456.6 215.5 458.0 218.0 458.9 220.5 460.2 223.0 461.0 225.5 462.0 228.0 462.7 231.0 463.7 234.0 464.1 237.0 465.0 240.0 466.0 242.5 467.0 245.0 468.2 247.5 469.0 250.0 470.9 252.5 472.6 255.0 474.2 257.5 476.0 260.0 477.4 262.5 478.8 265.0 480.7 267.5 482.0 270.0 482.6 272.5 483.1 275.0 483.3 277.5 484.0 280.0 484.5 282.5 485.2 285.0 485.5 287.5 486.0 290.0 486.4 292.7 487.3 295.3 488.0 298.0 490.2 300.5 492.0 303.0 493.5 307.0 491.1 309.5 489.0 312.0 486.0 314.5 486.0 318.3 487.1 320.8 488.5 323.3 490.0 325.8 491.5 328.3 493.0 330.8 494.2 333.3 495.4 336.1 496.7 338.9 498.3 341.7 500.1 343.9 502.1 346.1 504.2 348.3 506.1 350.0 507.9 351.6 510.0 353.3 510.5 356.6 511.2 360.0 511.1 363.0 511.6 366.0 511.6 369.0 511.5 372.0" class="c"/>
<path d="M473.5 72.0 473.3 74.5 473.9 77.0 473.4 79.5 473.6 82.0 474.0 84.5 473.9 87.0 473.9 89.5 473.8 92.0 473.7 94.5 474.0 97.0 473.7 99.5 473.8 102.0 474.0 104.5 474.0 107.0 473.8 109.5 474.1 112.0 474.4 114.5 474.4 117.0 474.3 119.5 474.4 122.0 474.4 124.5 474.2 127.0 474.6 129.5 474.5 132.0 474.7 134.5 474.9 137.0 474.7 139.5 474.8 142.0 474.9 144.5 475.1 147.0 475.0 149.5 474.9 152.0 475.3 154.5 475.5 157.0 475.5 159.5 475.5 162.0 475.7 164.5 475.7 167.0 475.8 169.5 475.7 172.0 475.7 174.5 476.0 177.0 476.0 179.5 475.9 182.1 476.2 184.6 476.5 187.2 476.6 189.8 476.7 192.3 476.6 194.9 476.8 197.4 477.0 200.0 477.2 202.5 477.6 205.0 477.7 207.5 478.0 210.0 479.4 212.7 480.9 215.3 482.0 218.0 482.6 220.5 483.6 223.0 484.4 225.5 485.0 228.0 485.4 231.0 486.0 234.0 486.8 237.0 487.0 240.0 487.5 242.5 488.5 245.0 489.0 247.5 490.0 250.0 491.2 252.5 492.3 255.0 493.0 257.5 494.0 260.0 495.4 262.7 497.4 265.3 499.0 268.0 500.4 270.7 501.8 273.3 503.0 276.0 504.3 278.7 505.8 281.3 507.0 284.0 507.9 286.5 508.5 289.0 509.2 291.5 510.0 294.0 510.9 296.7 511.2 299.3 512.0 302.0 514.1 305.0 516.0 308.0 517.0 312.0 515.0 316.0 513.4 318.1 512.0 320.3 510.8 323.8 514.3 327.3 516.0 329.6 517.2 332.0 519.0 334.3 521.0 336.6 522.4 339.0 524.0 341.4 526.0 343.7 527.8 346.0 529.8 348.4 531.8 350.7 532.4 354.2 533.5 357.7 533.5 360.6 533.5 363.4 533.6 366.3 533.4 369.1 533.5 372.0" class="c"/>
<path d="M128.5 573.8 128.2 575.8 128.2 577.9 128.8 579.9 129.0 582.0 128.5 584.0 128.2 586.1 128.9 588.1 128.4 590.2 128.2 592.2 128.1 594.3 128.8 596.3 128.9 598.4 128.7 600.4 128.5 602.5 128.5 604.6 128.6 606.7 128.3 608.8 129.2 610.8 128.5 612.9 128.8 615.0 129.1 617.1 129.1 619.2 128.7 621.2 128.5 623.3 128.9 625.4 128.4 627.5 129.3 629.6 128.7 631.7 129.3 633.8 128.7 635.8 128.8 637.9 129.0 640.0 128.8 642.0 129.1 644.0 128.9 646.0 128.8 648.0 129.8 650.0 129.3 652.0 129.4 654.0 129.6 656.0 129.9 658.0 129.9 660.0 130.3 662.0 130.4 664.0 130.1 666.0 130.9 668.0 130.5 670.0 131.2 672.0 130.5 674.0 131.6 676.0 132.0 678.0 132.1 680.0 131.6 682.0 132.6 684.0 132.7 686.0 132.2 688.0 133.0 690.0 133.0 692.1 134.7 694.3 134.9 696.4 135.0 698.6 135.4 700.7 136.0 702.9 137.0 705.0 137.2 707.2 138.3 709.5 138.3 711.8 139.0 714.0 139.0 716.0 140.4 718.0 140.7 720.0 140.4 722.0 141.7 724.0 141.8 726.0 142.4 728.0 142.8 730.0 143.0 732.0 144.0 734.0 144.3 736.0 144.9 738.0 144.6 740.0 145.7 742.0 146.0 744.0 146.8 746.0 146.9 748.0 147.5 750.0 148.9 751.8 149.5 753.7 150.1 755.5 151.0 757.3 151.9 759.2 153.3 761.0 153.6 763.0 153.5 765.0 154.3 767.0 154.2 769.0 155.0 771.0 155.4 773.0 155.8 775.0 156.2 777.0 157.0 779.0 156.4 781.0 157.7 783.0 157.7 785.0 158.2 787.0 158.5 789.0 159.1 791.0 159.8 793.0 159.7 795.0 160.2 797.0 161.2 799.0 160.6 801.0 161.7 803.0 162.2 805.0 161.9 807.0 163.0 809.0 163.5 811.0 164.3 813.0 164.2 815.0 164.5 817.1 165.8 819.2 165.8 821.3 166.2 823.4 167.2 825.5 166.7 827.6 167.8 829.7 168.3 831.9 168.4 834.1 168.3 836.3 169.2 838.5 169.0 840.7 168.8 842.8 169.0 844.8 169.0 846.9 169.3 849.0 168.7 851.0 168.9 853.1 168.9 855.1 169.1 857.2 169.4 859.3 168.8 861.3 169.4 863.4 168.9 865.5 169.0 867.5 168.7 869.6 169.0 871.6 169.0 873.7" class="c"/>
<path d="M151.0 573.8 151.6 575.8 151.2 577.9 151.4 579.9 150.8 582.0 150.8 584.1 150.8 586.1 151.1 588.2 151.2 590.2 151.3 592.3 150.4 594.4 151.3 596.4 151.5 598.5 151.1 600.6 150.5 602.6 150.8 604.7 150.4 606.8 150.6 608.8 151.5 610.9 151.1 612.9 151.0 615.0 151.3 617.1 151.5 619.3 151.7 621.4 151.4 623.6 151.5 625.7 151.6 627.9 151.5 630.0 151.7 632.0 151.5 634.0 149.6 636.6 150.9 639.3 151.9 642.0 153.0 645.0 152.4 647.0 151.0 649.0 150.5 651.0 150.7 653.0 150.5 655.0 151.4 657.5 152.5 660.0 153.0 662.5 151.8 664.8 150.0 667.0 149.3 669.0 149.5 671.0 150.5 674.0 151.5 675.7 152.6 677.3 154.5 679.0 154.8 681.0 154.5 683.0 154.0 684.8 152.7 686.5 151.3 688.2 150.5 690.0 151.9 692.0 152.5 694.0 154.3 696.5 155.5 699.0 156.1 701.0 156.5 703.0 156.5 705.5 157.0 708.0 158.5 709.5 160.5 711.0 159.4 713.0 158.5 715.0 158.8 717.5 159.5 720.0 160.2 722.0 161.0 724.0 161.7 726.1 162.6 728.2 162.2 730.4 163.3 732.5 163.3 734.6 163.9 736.8 165.3 738.9 165.5 741.0 166.1 743.0 167.0 745.0 166.9 747.0 166.9 749.0 167.9 751.0 168.6 753.0 169.5 755.0 170.1 757.0 170.0 759.0 170.5 761.0 170.9 763.0 171.0 765.0 172.2 767.0 172.2 769.0 172.6 771.0 172.9 773.0 174.0 775.0 174.5 776.8 176.5 778.5 176.9 780.2 178.5 782.0 179.5 784.0 178.9 786.0 180.3 788.0 179.8 790.0 180.1 792.0 181.4 794.0 181.3 796.0 182.3 798.0 182.5 800.0 182.7 802.1 183.0 804.3 184.4 806.4 184.9 808.6 185.6 810.7 185.9 812.9 186.2 815.0 186.3 817.4 187.6 819.9 188.0 822.3 188.4 824.3 188.3 826.3 189.0 828.3 188.4 830.3 189.4 832.3 189.2 834.3 188.6 836.3 188.7 838.3 189.7 840.3 190.0 842.3 189.8 844.3 189.3 846.4 189.6 848.5 190.1 850.6 189.4 852.7 190.2 854.8 189.8 856.9 189.3 859.0 189.6 861.1 189.9 863.2 189.7 865.3 190.0 867.4 189.4 869.5 190.2 871.6 189.8 873.7" class="c"/>
<path d="M173.0 573.8 172.8 575.8 173.2 577.9 173.2 579.9 172.9 582.0 172.9 584.1 173.3 586.1 173.5 588.2 173.3 590.2 173.1 592.3 172.8 594.4 172.5 596.4 173.6 598.5 173.2 600.6 173.4 602.6 172.8 604.7 173.1 606.8 173.6 608.8 173.4 610.9 173.1 612.9 173.0 615.0 172.8 617.1 173.0 619.2 173.5 621.2 173.0 623.3 173.4 625.4 173.3 627.5 173.7 629.6 173.6 631.7 173.0 633.8 172.7 635.8 173.0 637.9 173.2 640.0 173.5 642.1 173.8 644.2 173.9 646.2 172.9 648.3 173.9 650.4 173.5 652.5 173.9 654.6 173.9 656.7 173.6 658.7 173.2 660.8 173.9 662.9 173.9 665.0 173.7 667.1 174.0 669.1 173.3 671.2 173.0 673.3 173.6 675.4 173.9 677.4 173.1 679.5 173.8 681.6 174.0 683.7 173.2 685.8 173.6 687.8 173.7 689.9 173.5 692.0 174.4 694.0 175.0 696.0 176.0 698.0 177.2 700.0 178.5 702.0 179.5 704.0 180.0 706.0 181.0 708.0 180.9 710.0 182.2 712.0 182.6 714.0 182.3 716.0 183.2 718.0 183.5 720.0 184.4 722.1 184.9 724.2 184.9 726.3 185.3 728.4 185.9 730.5 185.8 732.6 186.3 734.7 186.7 736.8 187.8 738.9 188.0 741.0 188.4 743.1 189.3 745.2 189.7 747.3 190.5 749.4 190.6 751.6 191.1 753.7 192.9 755.8 192.7 757.9 193.5 760.0 193.3 762.1 194.2 764.2 194.6 766.3 194.1 768.4 194.9 770.5 194.9 772.6 195.3 774.7 196.2 776.5 196.6 778.4 197.5 780.2 199.0 782.0 200.1 784.1 200.5 786.2 200.6 788.3 201.2 790.4 201.4 792.5 202.5 794.6 202.7 796.7 203.3 798.9 204.7 801.1 205.2 803.3 206.0 805.5 206.3 807.7 207.6 809.9 207.5 812.1 208.0 814.3 208.9 816.5 210.0 818.7 209.9 820.8 210.0 822.9 210.2 825.0 211.1 827.0 211.7 829.1 211.5 831.2 211.8 833.3 212.4 835.3 212.4 837.3 211.5 839.4 212.2 841.4 212.0 843.4 211.7 845.4 212.8 847.4 212.0 849.5 212.4 851.5 212.6 853.5 213.0 855.5 212.7 857.5 212.5 859.6 212.6 861.6 212.3 863.6 213.3 865.6 213.4 867.6 212.5 869.7 212.4 871.7 213.0 873.7" class="c"/>
<path d="M195.2 573.8 195.0 575.8 195.1 577.9 195.8 579.9 195.9 582.0 195.8 584.1 194.9 586.1 195.9 588.2 195.8 590.2 195.8 592.3 196.2 594.4 195.1 596.4 195.3 598.5 196.0 600.6 196.3 602.6 196.0 604.7 195.6 606.8 196.0 608.8 196.2 610.9 195.5 612.9 196.0 615.0 196.0 617.1 196.1 619.2 196.2 621.2 196.8 623.3 196.6 625.4 196.9 627.5 197.0 629.6 197.9 631.7 197.3 633.8 198.3 635.8 197.9 637.9 198.5 640.0 198.1 642.1 199.2 644.2 198.5 646.2 199.5 648.3 199.5 650.4 199.6 652.5 198.8 654.6 199.3 656.7 199.0 658.8 200.1 660.8 200.1 662.9 200.0 665.0 199.9 667.1 199.9 669.2 200.6 671.2 200.3 673.3 200.5 675.4 200.5 677.5 200.1 679.5 200.3 681.6 200.2 683.6 201.0 685.6 200.9 687.7 200.5 689.7 201.4 691.7 200.8 693.8 201.0 695.8 200.8 697.8 201.0 699.9 201.7 701.9 201.2 703.9 201.0 706.0 201.5 708.0 201.9 710.1 202.2 712.2 203.3 714.3 202.8 716.4 204.3 718.5 203.7 720.6 205.1 722.7 205.3 724.8 205.2 726.9 206.0 729.0 206.4 731.1 206.6 733.2 207.1 735.3 207.4 737.4 208.1 739.5 209.3 741.6 209.7 743.7 210.1 745.8 209.6 747.9 210.5 750.0 210.9 752.0 212.3 754.0 211.9 756.0 213.3 758.0 213.7 760.0 214.0 762.1 215.3 764.2 214.7 766.3 216.1 768.4 216.1 770.5 216.4 772.6 217.3 774.7 217.2 776.8 218.8 778.9 218.9 781.0 219.0 783.0 219.9 785.1 221.0 787.2 221.0 789.3 221.4 791.4 222.7 793.5 222.9 795.6 223.8 797.7 225.3 799.8 226.0 801.9 226.5 804.0 226.9 806.1 227.6 808.2 228.4 810.3 229.8 812.4 230.4 814.5 230.9 816.6 232.0 818.7 231.9 820.8 232.6 822.9 233.0 825.0 233.4 827.0 233.4 829.1 233.2 831.2 233.8 833.3 233.3 835.3 234.2 837.3 233.9 839.4 234.3 841.4 233.6 843.4 234.5 845.4 234.0 847.4 234.7 849.5 234.8 851.5 234.4 853.5 233.9 855.5 235.0 857.5 234.6 859.6 235.1 861.6 234.4 863.6 234.4 865.6 235.2 867.6 234.7 869.7 234.5 871.7 235.0 873.7" class="c"/>
<path d="M217.8 575.0 217.6 577.0 217.8 579.0 217.1 581.0 217.7 583.0 217.6 585.0 217.6 587.0 217.1 589.0 217.8 591.0 217.9 593.0 217.9 595.0 217.3 597.0 217.7 599.0 217.3 601.0 217.7 603.0 216.8 605.0 217.8 607.0 217.9 609.0 217.3 611.0 217.3 613.0 217.2 615.0 217.4 617.1 217.5 619.2 217.0 621.2 218.2 623.3 217.4 625.4 217.5 627.5 217.5 629.6 217.8 631.7 218.6 633.8 217.7 635.8 217.9 637.9 218.5 640.0 219.0 642.0 218.6 644.0 218.7 646.0 219.6 648.0 219.8 650.0 220.0 652.0 220.5 654.0 220.0 656.0 221.2 658.0 221.0 660.0 221.9 662.5 222.2 665.0 221.9 667.1 222.2 669.2 222.8 671.2 223.0 673.3 222.9 675.4 222.9 677.5 223.4 679.6 223.3 681.7 224.0 683.8 224.6 685.8 223.9 687.9 224.5 690.0 224.7 692.1 225.1 694.3 224.5 696.4 225.5 698.6 225.7 700.7 225.2 702.9 225.5 705.0 225.8 707.0 226.7 709.0 226.7 711.0 226.9 713.0 227.9 715.0 228.1 717.0 227.9 719.0 228.2 721.0 228.7 723.0 229.2 725.0 230.2 727.0 230.0 729.0 230.7 731.1 231.2 733.2 231.4 735.2 231.8 737.3 231.2 739.4 232.1 741.5 233.0 743.5 233.3 745.6 232.8 747.7 233.4 749.8 234.0 751.8 234.0 753.9 234.5 756.0 234.9 758.1 234.6 760.2 235.4 762.2 235.8 764.3 235.6 766.4 236.1 768.5 237.4 770.5 237.5 772.6 237.5 774.7 238.6 776.8 238.7 778.9 239.5 781.0 240.1 783.0 240.6 785.1 240.1 787.2 241.2 789.3 241.8 791.3 241.7 793.4 242.6 795.4 242.5 797.5 243.3 799.5 244.1 801.6 244.1 803.6 244.1 805.7 244.8 807.7 245.7 809.5 246.6 811.4 248.1 813.2 248.5 815.0 250.1 816.9 252.2 818.7 252.2 820.8 252.9 822.9 252.5 825.0 253.3 827.0 254.0 829.1 253.8 831.2 254.0 833.3 253.7 835.3 254.0 837.3 254.0 839.4 253.6 841.4 253.5 843.4 253.6 845.4 253.8 847.4 253.9 849.5 253.7 851.5 253.7 853.5 253.5 855.5 254.1 857.5 254.4 859.6 254.1 861.6 254.1 863.6 254.2 865.6 253.6 867.6 254.3 869.7 254.0 871.7 254.0 873.7" class="c"/>
<path d="M279.3 573.7 278.4 576.0 277.3 578.3 277.2 580.5 276.9 582.8 276.7 585.0 276.1 587.2 275.7 589.5 275.6 591.7 276.5 594.0 275.6 596.9 275.3 599.7 275.0 602.4 274.7 605.0 274.1 607.6 273.7 610.3 273.9 612.4 273.2 614.6 273.7 616.7 274.4 618.9 274.0 621.0 273.7 623.1 274.2 625.3 274.2 627.4 274.0 629.6 274.3 631.7 275.0 633.9 274.2 636.1 274.8 638.4 274.2 640.6 274.1 642.8 274.7 645.0 274.6 647.3 273.5 649.7 273.0 652.0 272.5 654.0 273.0 656.0 273.1 658.0 273.5 660.0 272.9 662.0 273.1 664.0 274.0 666.0 273.8 668.0 273.6 670.0 273.1 672.0 273.3 674.0 273.2 676.0 273.6 678.0 273.4 680.0 273.7 682.0 273.6 684.0 273.1 686.0 273.3 688.0 273.0 690.0 273.7 692.0 274.1 694.0 274.2 696.0 274.9 698.0 275.0 700.0 275.3 702.0 275.5 704.0 274.6 706.0 275.4 708.0 274.4 710.0 275.3 712.0 275.1 714.0 275.0 716.0 275.6 718.0 275.1 720.0 274.9 722.0 275.3 724.0 275.4 726.0 275.1 728.0 275.0 730.0 274.9 732.0 275.1 734.0 275.1 736.0 275.5 738.0 275.1 740.0 275.3 742.0 275.5 744.0 275.4 746.0 275.4 748.0 276.0 750.0 276.2 752.0 275.8 754.0 275.8 756.0 275.6 758.0 276.0 760.0 275.9 762.0 275.8 764.1 276.4 766.1 276.5 768.2 276.0 770.2 277.1 772.2 276.5 774.3 277.2 776.3 277.3 778.4 277.6 780.4 276.7 782.4 277.1 784.5 277.8 786.5 276.8 788.5 277.0 790.6 277.7 792.6 277.7 794.7 277.8 796.7 278.6 798.7 278.8 800.8 278.8 802.8 279.7 804.9 279.4 806.9 279.7 809.0 280.0 811.0 280.8 813.1 280.9 815.3 281.4 817.4 282.3 819.6 282.7 821.7 283.0 823.9 284.1 826.1 284.2 828.4 284.5 830.6 284.4 832.8 285.3 835.0 285.8 837.0 286.5 839.0 287.4 841.0 288.1 843.0 289.1 845.0 289.3 847.0 291.7 848.8 292.9 850.5 294.7 852.3 296.4 853.6 298.4 855.0 300.0 856.3 301.6 859.0 302.0 861.7 301.9 863.7 302.3 865.7 302.7 867.7 302.1 869.7 302.4 871.7 302.7 873.7" class="c"/>
<path d="M333.3 573.7 334.0 576.0 334.0 578.2 333.7 580.5 333.4 582.7 334.0 585.0 334.3 587.1 333.9 589.3 334.0 591.4 334.0 593.6 333.8 595.7 333.0 597.9 333.0 600.0 333.1 602.5 334.0 605.0 333.6 607.0 333.8 609.0 333.7 611.0 333.2 613.0 333.1 615.0 333.6 617.0 333.4 619.0 333.0 621.0 333.7 623.0 333.0 625.0 333.5 627.0 333.1 629.0 333.8 631.0 334.5 633.0 334.3 635.0 335.0 637.0 334.5 639.0 335.2 641.0 336.1 643.0 336.0 645.0 334.5 648.0 334.6 650.5 334.5 653.0 335.5 655.3 335.8 657.7 337.0 660.0 336.5 662.0 336.1 664.0 335.2 666.0 335.0 668.0 335.8 670.0 336.3 672.0 337.5 674.0 337.5 676.0 337.3 678.3 336.7 680.7 336.5 683.0 337.0 685.3 338.1 687.7 339.5 690.0 340.0 692.0 339.4 694.0 339.6 696.0 339.9 698.0 340.5 700.0 340.0 702.0 339.9 704.0 339.1 706.0 338.9 708.0 338.0 710.0 337.8 712.2 338.0 714.3 339.2 716.5 339.0 718.6 339.5 720.8 340.9 722.5 341.7 724.3 342.6 726.0 344.2 727.8 343.8 729.9 343.5 732.0 344.3 734.1 343.8 736.2 343.6 738.3 343.3 740.3 343.4 742.3 343.2 744.3 342.7 746.3 343.6 748.3 343.2 750.3 343.0 752.3 343.9 754.4 343.7 756.6 344.3 758.8 344.2 760.9 344.4 763.1 345.3 765.2 346.3 767.5 346.7 769.8 346.5 772.2 347.7 774.5 347.7 776.8 348.8 779.2 349.0 781.6 350.0 784.0 350.7 786.2 351.6 788.4 351.6 790.6 352.7 792.8 352.7 795.0 352.8 797.2 353.4 799.4 354.3 801.6 354.1 803.9 354.6 806.1 355.3 808.3 356.1 810.5 355.9 812.8 356.7 815.0 356.3 817.2 356.6 819.5 357.3 821.7 357.7 823.8 358.2 825.8 359.7 827.9 359.5 829.9 360.5 832.0 361.0 834.0 362.3 835.0 364.5 836.0 366.1 837.0 368.0 838.0 369.4 840.0 371.0 842.0 370.7 844.0 371.0 846.0 372.1 848.0 372.0 850.0 371.8 852.2 371.7 854.3 371.6 856.5 371.7 858.6 371.7 860.8 371.4 862.9 372.2 865.1 371.8 867.2 371.6 869.4 372.2 871.5 372.0 873.7" class="c"/>
<path d="M355.6 574.0 355.1 576.1 355.2 578.2 355.8 580.3 354.9 582.4 355.2 584.5 355.6 586.6 355.5 588.7 354.7 590.8 354.9 592.9 355.0 595.0 355.3 597.0 354.9 599.0 355.6 601.0 354.6 603.0 355.5 605.0 355.0 607.0 354.7 609.0 354.9 611.0 354.6 613.0 355.0 615.0 355.3 617.0 354.9 619.0 355.8 621.0 355.5 623.0 355.3 625.0 355.3 627.0 355.8 629.0 355.5 631.0 356.3 633.0 356.0 635.0 355.0 637.5 355.0 640.0 355.1 642.0 355.3 644.0 355.0 646.0 355.7 648.0 355.4 650.0 355.8 652.0 355.8 654.0 355.6 656.0 355.8 658.0 356.0 660.0 355.7 662.5 356.4 665.0 356.0 667.1 356.9 669.1 356.3 671.2 356.7 673.2 356.1 675.3 356.7 677.4 356.5 679.4 356.7 681.5 356.5 683.5 356.2 685.6 356.6 687.6 356.5 689.7 356.4 691.8 357.2 693.8 356.7 695.9 356.8 697.9 357.0 700.0 357.6 702.0 357.5 704.0 357.8 706.0 357.8 708.0 357.1 710.0 357.3 712.0 357.1 714.0 358.0 716.0 358.1 718.0 358.0 720.0 358.3 722.0 358.9 724.0 359.7 726.0 360.2 728.0 360.2 730.0 361.4 732.0 361.3 734.0 362.0 736.0 362.5 738.0 362.3 740.0 362.5 742.0 363.8 744.0 363.9 746.0 364.3 748.0 363.8 750.0 364.1 752.0 364.6 754.0 365.0 756.0 365.4 758.0 366.0 760.0 366.3 762.0 366.2 764.0 367.0 766.0 367.8 768.0 367.6 770.0 368.8 772.0 368.9 774.0 369.5 776.0 369.3 778.0 370.0 780.0 370.2 782.0 370.8 784.0 370.7 786.0 370.6 788.0 371.9 790.0 372.1 792.0 371.8 794.0 371.9 796.0 373.1 798.0 373.0 800.0 373.5 802.0 373.3 804.0 373.9 806.0 374.1 808.0 375.3 810.0 375.1 812.0 376.3 814.0 376.5 816.0 376.1 818.0 377.0 820.0 377.4 822.0 377.3 824.0 377.9 826.0 378.2 828.0 377.7 830.0 377.7 832.0 378.9 834.0 378.5 836.0 379.3 838.0 379.0 840.0 381.0 841.2 382.9 842.4 384.8 843.6 386.4 844.8 388.0 846.0 389.3 848.0 390.1 850.0 392.0 852.0 392.6 854.0 392.7 856.0 393.2 858.0 393.6 860.0 394.1 862.3 393.2 864.6 393.9 866.9 393.1 869.1 393.8 871.4 393.6 873.7" class="c"/>
<path d="M376.0 574.0 376.4 576.1 375.8 578.1 376.1 580.2 376.7 582.3 376.3 584.3 376.2 586.4 375.9 588.5 375.7 590.5 376.1 592.6 376.2 594.7 375.9 596.7 376.1 598.8 375.9 600.9 376.6 602.9 376.4 605.0 376.8 607.0 376.4 609.0 376.6 611.0 377.1 613.0 377.2 615.0 378.0 617.0 377.4 619.0 377.5 621.0 378.4 623.0 377.7 625.0 378.4 627.0 378.3 629.0 379.0 631.0 378.9 633.0 379.0 635.0 379.4 637.0 378.7 639.0 379.4 641.0 379.4 643.0 379.3 645.0 379.7 647.0 379.9 649.0 379.1 651.0 379.3 653.0 379.5 655.0 379.4 657.0 379.3 659.0 379.6 661.0 379.6 663.0 380.0 665.0 380.5 667.0 380.5 669.0 380.4 671.0 381.0 673.0 381.5 675.0 381.6 677.0 381.7 679.0 381.9 681.0 382.1 683.0 383.0 685.0 384.0 687.1 384.1 689.2 383.6 691.4 384.8 693.5 385.5 695.6 385.3 697.8 385.2 699.9 386.0 702.0 385.8 704.0 385.5 706.0 385.0 708.0 385.2 710.0 384.3 712.0 385.2 714.0 384.6 716.0 384.4 718.0 384.0 720.0 384.6 722.0 384.4 724.0 384.0 726.0 384.1 728.0 384.1 730.0 384.0 732.0 385.0 734.0 385.2 736.0 384.7 738.0 385.0 740.0 384.8 742.0 385.6 744.0 386.0 746.0 386.3 748.0 385.6 750.0 386.5 752.0 386.8 754.0 386.9 756.0 386.6 758.0 387.0 760.0 386.9 762.0 388.0 764.0 387.7 766.0 388.0 768.0 388.6 770.0 388.6 772.0 389.5 774.0 389.1 776.0 389.1 778.0 390.0 780.0 390.3 782.0 390.6 784.0 391.0 786.0 391.0 788.0 391.5 790.0 391.7 792.0 391.4 794.0 391.6 796.0 391.4 798.0 392.0 800.0 392.0 802.0 392.5 804.0 392.1 806.0 393.0 808.0 392.6 810.0 393.1 812.0 394.0 814.0 393.1 816.0 393.2 818.0 394.0 820.0 394.4 822.0 394.6 824.0 395.8 826.0 395.4 828.0 396.9 830.0 397.4 832.0 397.8 834.0 398.0 836.0 399.5 837.2 400.9 838.4 403.0 839.6 404.4 840.8 406.0 842.0 407.4 843.5 408.8 845.0 410.4 846.5 412.0 848.0 412.6 850.0 413.2 852.0 413.7 854.0 413.6 856.0 413.2 858.2 413.4 860.4 413.5 862.6 413.7 864.9 413.4 867.1 413.2 869.3 413.1 871.5 413.6 873.7" class="c"/>
<path d="M399.0 574.0 398.7 576.1 398.8 578.1 399.4 580.2 399.2 582.3 399.1 584.3 399.2 586.4 399.1 588.5 398.6 590.5 398.8 592.6 397.8 594.7 398.5 596.7 398.3 598.8 397.9 600.9 398.2 602.9 398.0 605.0 398.6 607.0 398.1 609.0 398.3 611.0 398.0 613.0 398.1 615.0 398.8 617.0 397.8 619.0 398.0 621.0 398.7 623.0 398.4 625.0 398.1 627.0 398.8 629.0 398.5 631.0 398.8 633.0 398.6 635.0 398.8 637.0 398.9 639.0 398.8 641.0 398.5 643.0 399.0 645.0 398.7 647.0 399.6 649.0 399.2 651.0 398.7 653.0 399.7 655.0 399.0 657.0 398.9 659.0 399.4 661.0 399.2 663.0 399.5 665.0 399.6 667.0 399.3 669.0 399.7 671.0 399.2 673.0 399.8 675.0 399.9 677.0 399.3 679.0 399.8 681.0 399.4 683.0 400.0 685.0 400.1 687.1 400.7 689.2 400.4 691.4 400.8 693.5 400.9 695.6 400.3 697.8 401.5 699.9 401.0 702.0 401.4 704.0 400.7 706.0 401.7 708.0 401.3 710.0 401.2 712.0 402.2 714.0 401.9 716.0 402.2 718.0 402.0 720.0 401.9 722.0 402.9 724.0 402.4 726.0 402.9 728.0 403.3 730.0 403.2 732.0 404.2 734.0 404.1 736.0 404.5 738.0 405.0 740.0 405.7 742.0 405.8 744.0 406.8 746.0 406.9 748.0 407.6 750.0 407.6 752.0 408.0 754.0 408.8 756.0 408.9 758.0 408.4 760.0 409.3 762.0 409.1 764.0 409.8 766.0 410.0 768.0 410.0 770.0 410.6 772.0 409.9 774.0 410.4 776.0 411.1 778.0 411.5 780.0 411.5 782.0 410.9 784.0 411.7 786.0 411.3 788.0 412.0 790.0 412.1 792.0 412.5 794.0 411.8 796.0 412.8 798.0 412.6 800.0 412.2 802.0 412.2 804.0 412.6 806.0 413.2 808.0 412.9 810.0 412.5 812.0 413.0 814.0 413.1 816.0 414.0 818.0 415.5 820.0 415.5 822.0 416.6 824.0 417.0 826.0 418.0 828.0 419.1 830.0 419.6 832.0 420.1 834.0 421.9 836.0 422.3 838.0 423.4 840.0 424.0 842.0 426.4 842.8 428.5 843.5 429.4 844.2 432.0 845.0 433.3 846.5 435.0 848.0 434.8 850.0 435.5 852.0 436.1 854.0 436.3 856.0 435.6 858.0 436.4 860.0 436.0 862.3 436.8 864.6 436.6 866.9 436.3 869.1 436.4 871.4 436.4 873.7" class="c"/>
<path d="M421.6 574.0 421.1 576.1 421.9 578.2 421.3 580.3 421.8 582.4 421.4 584.5 420.7 586.6 421.0 588.7 420.8 590.8 421.5 592.9 421.0 595.0 421.2 597.0 420.6 599.0 420.8 601.0 421.1 603.0 421.3 605.0 421.5 607.0 421.3 609.0 421.4 611.0 421.0 613.0 421.8 615.0 421.5 617.0 421.2 619.0 421.8 621.0 422.5 623.0 422.0 625.0 421.5 627.0 421.7 629.0 422.4 631.0 422.0 633.0 422.1 635.0 422.4 637.0 422.2 639.0 422.6 641.0 422.6 643.0 423.2 645.0 423.3 647.0 422.2 649.0 422.9 651.0 423.3 653.0 423.0 655.0 423.6 657.0 423.6 659.0 423.6 661.0 423.7 663.0 423.5 665.0 423.5 667.0 424.3 669.0 424.5 671.0 424.7 673.0 424.6 675.0 424.2 677.0 424.9 679.0 425.0 681.0 424.9 683.0 425.0 685.0 425.2 687.1 425.0 689.3 425.3 691.4 425.2 693.6 424.8 695.7 425.2 697.9 425.5 700.0 425.5 702.0 426.6 704.0 426.2 706.0 426.3 708.0 426.4 710.0 426.7 712.0 427.1 714.0 427.1 716.0 427.2 718.0 428.0 720.0 428.6 722.0 428.3 724.0 428.5 726.0 428.9 728.0 429.0 730.0 428.7 732.0 428.5 734.0 428.4 736.0 428.6 738.0 428.6 740.0 429.0 742.0 428.8 744.0 429.2 746.0 428.4 748.0 429.1 750.0 428.7 752.0 428.0 754.0 428.1 756.0 428.5 758.0 428.4 760.0 429.1 762.0 428.4 764.0 429.0 766.0 428.7 768.0 429.3 770.0 428.4 772.0 429.0 774.0 429.6 776.0 428.9 778.0 429.0 780.0 428.8 782.0 429.1 784.0 429.3 786.0 429.9 788.0 429.4 790.0 429.7 792.0 429.6 794.0 430.0 796.0 430.8 798.0 431.8 800.0 432.2 802.0 432.3 804.0 433.6 806.0 434.0 808.0 435.2 810.0 435.5 812.0 435.5 814.0 437.0 816.0 437.8 818.0 438.0 820.0 438.3 822.0 438.6 824.0 439.1 826.0 440.0 828.0 441.0 830.0 441.2 832.0 442.0 834.0 442.0 836.0 442.2 838.0 442.8 840.0 443.8 842.0 444.2 844.0 444.4 846.0 445.0 848.0 446.8 849.2 448.0 850.4 449.3 851.6 451.3 852.8 453.0 854.0 454.5 856.0 457.0 858.0 457.4 860.0 457.3 862.0 457.7 864.0 458.0 866.0 458.3 868.6 458.0 871.1 458.4 873.7" class="c"/>
<path d="M444.4 574.0 444.3 576.1 443.7 578.2 444.8 580.3 444.3 582.4 444.8 584.5 443.6 586.6 444.3 588.7 444.3 590.8 443.8 592.9 444.0 595.0 443.4 597.0 443.5 599.0 443.4 601.0 444.1 603.0 443.2 605.0 444.0 607.0 443.4 609.0 443.5 611.0 443.5 613.0 443.4 615.0 443.5 617.0 443.3 619.0 442.9 621.0 443.4 623.0 443.0 625.0 442.7 627.0 443.2 629.0 443.2 631.0 443.2 633.0 442.6 635.0 443.1 637.0 443.3 639.0 442.7 641.0 442.4 643.0 442.7 645.0 443.2 647.0 442.2 649.0 442.0 651.0 442.5 653.0 442.5 655.0 442.7 657.1 442.8 659.1 442.3 661.2 443.1 663.3 442.2 665.4 442.8 667.4 442.0 669.5 441.9 671.6 442.1 673.6 442.0 675.7 442.5 677.8 442.6 679.9 442.1 681.9 442.5 684.0 443.5 686.2 443.3 688.4 443.6 690.6 444.1 692.8 445.0 695.0 445.4 697.0 445.7 699.0 445.0 701.0 444.9 703.0 445.6 705.0 446.1 707.1 445.5 709.2 446.5 711.2 446.1 713.3 446.3 715.4 446.1 717.5 446.8 719.6 446.5 721.7 446.4 723.8 447.3 725.8 446.4 727.9 447.0 730.0 447.6 732.0 447.2 734.0 448.3 736.0 448.3 738.0 449.3 740.0 448.7 742.0 449.6 744.0 449.8 746.0 450.8 748.0 451.2 750.0 451.0 752.0 451.3 754.0 450.9 756.0 451.0 758.0 451.2 760.0 451.5 762.0 451.3 764.0 451.4 766.0 452.2 768.0 452.0 770.0 452.4 772.0 452.2 774.0 453.3 776.0 452.6 778.0 453.2 780.0 453.0 782.0 454.1 784.0 454.3 786.0 453.8 788.0 454.6 790.0 454.9 792.0 454.5 794.0 455.0 796.0 455.3 798.0 456.0 800.0 457.0 802.0 456.6 804.0 457.7 806.0 458.1 808.0 458.4 810.0 459.0 812.0 459.5 814.0 460.3 816.0 460.0 818.0 461.2 820.0 461.1 822.0 462.0 824.0 462.5 826.0 462.2 828.0 463.0 830.0 463.9 832.0 464.6 834.0 464.3 836.0 464.4 838.0 465.0 840.0 466.6 842.0 465.9 844.0 467.5 846.0 467.1 848.0 468.0 850.0 470.3 851.0 472.0 852.0 473.0 853.5 474.6 855.0 476.7 856.5 478.0 858.0 478.2 860.0 479.1 862.0 480.0 864.0 480.5 866.4 480.3 868.9 480.5 871.3 480.0 873.7" class="c"/>
<path d="M483.5 573.3 485.3 575.5 485.9 577.8 485.6 580.1 486.0 582.4 486.9 584.7 486.8 587.0 487.0 589.1 486.2 591.1 486.8 593.2 486.5 595.2 486.7 597.3 486.3 599.4 486.2 601.4 487.4 603.5 486.6 605.6 487.3 607.6 486.3 609.7 486.8 611.8 486.4 613.8 486.7 615.9 486.4 617.9 486.8 620.0 487.0 622.0 486.4 624.1 487.2 626.1 486.9 628.2 486.4 630.2 486.8 632.2 487.0 634.3 487.5 636.3 486.8 638.4 486.7 640.4 487.6 642.4 487.5 644.5 487.4 646.5 486.8 648.5 486.7 650.6 486.9 652.6 486.7 654.7 487.2 656.7 486.6 658.8 487.2 660.8 487.0 662.9 487.2 664.9 486.9 667.0 486.5 669.1 487.3 671.1 487.2 673.2 487.1 675.3 487.1 677.3 487.2 679.4 487.6 681.4 487.4 683.5 487.2 685.6 486.8 687.6 486.7 689.7 486.8 691.8 487.4 693.8 486.7 695.9 486.7 697.9 486.8 700.0 487.0 702.0 486.9 704.0 488.2 706.0 487.3 708.0 488.3 710.0 489.0 712.0 488.4 714.0 489.0 716.0 489.4 718.0 489.4 720.0 489.5 722.0 489.8 724.0 490.0 726.0 491.1 728.0 491.0 730.0 491.7 732.0 492.3 734.0 491.7 736.0 492.8 738.0 493.0 740.0 492.8 742.0 493.2 744.0 493.1 746.0 492.8 748.0 493.6 750.0 492.4 752.0 493.3 754.0 493.4 756.0 493.0 758.0 493.0 760.0 493.0 762.0 493.3 764.0 492.3 766.0 492.7 768.0 492.7 770.0 492.1 772.0 492.4 774.0 492.0 776.0 491.6 778.0 491.5 780.0 491.3 782.0 491.1 784.0 490.4 786.0 490.4 788.0 490.0 790.0 489.9 792.0 489.3 794.0 489.5 796.0 488.9 798.0 489.0 800.0 489.3 802.0 488.7 804.0 488.8 806.0 488.5 808.0 488.3 810.0 487.8 812.0 488.0 814.0 488.2 816.0 489.8 818.0 490.0 820.0 490.0 822.0 490.0 824.0 490.0 826.0 490.4 828.0 489.7 830.0 489.6 832.0 490.4 834.0 490.0 836.0 490.1 838.0 490.5 840.0 490.9 842.0 491.1 844.0 491.3 846.0 491.0 848.0 492.5 850.0 495.0 852.0 495.2 854.0 496.1 856.0 496.4 858.0 496.4 860.0 495.9 862.3 496.0 864.6 496.1 866.9 495.9 869.1 496.2 871.4 496.4 873.7" class="c"/>
<path d="M502.0 573.3 502.5 575.4 502.3 577.6 502.4 579.7 502.1 581.8 502.6 584.0 503.5 586.1 503.2 588.2 503.1 590.4 503.3 592.5 503.3 594.6 503.8 596.7 503.8 598.8 503.2 601.0 503.9 603.1 503.6 605.2 503.8 607.3 503.6 609.4 503.8 611.5 503.8 613.7 504.0 615.8 503.6 617.9 504.2 620.0 503.9 622.0 504.4 624.1 503.9 626.1 504.1 628.2 504.8 630.2 504.3 632.2 504.4 634.3 504.4 636.3 505.1 638.4 504.3 640.4 505.0 642.4 505.3 644.5 504.6 646.5 504.9 648.5 505.4 650.6 505.2 652.6 505.0 654.7 505.2 656.7 504.5 658.7 504.9 660.8 504.7 662.8 505.0 664.8 504.4 666.9 504.5 668.9 504.6 670.9 504.7 673.0 504.2 675.0 504.0 677.0 503.9 679.1 504.0 681.1 504.3 683.1 503.4 685.2 504.2 687.2 503.8 689.2 503.3 691.3 503.3 693.3 503.6 695.6 503.3 698.0 503.0 700.3 503.9 702.7 503.7 705.0 502.2 707.5 501.0 710.0 501.5 712.5 502.0 715.0 501.0 717.3 500.5 719.7 499.0 722.0 498.6 724.0 496.9 726.0 496.9 728.0 496.0 730.0 495.4 732.0 494.8 734.0 494.6 736.0 493.5 738.0 493.0 740.0 493.0 742.0 493.5 744.0 492.9 746.0 493.0 748.0 493.0 750.0 493.4 752.0 493.2 754.0 493.3 756.0 492.9 758.0 493.0 760.0 492.8 762.0 494.0 764.0 494.2 766.0 494.8 768.0 495.2 770.0 494.8 772.0 495.3 774.0 496.0 776.0 496.0 778.0 497.4 780.0 497.0 782.0 497.5 784.0 498.8 786.0 499.1 788.0 499.0 790.0 500.0 792.0 500.4 794.0 500.6 796.0 500.5 798.0 500.1 800.0 501.1 802.0 501.0 804.0 500.9 806.0 501.1 808.0 501.6 810.0 501.4 812.0 501.4 814.0 500.6 816.0 500.8 818.0 501.0 820.0 502.7 821.3 503.7 822.7 506.0 824.0 507.6 826.0 507.7 828.0 509.0 830.0 509.1 832.0 509.6 834.0 509.9 836.0 511.0 838.0 511.0 840.0 512.7 841.3 514.3 842.7 516.0 844.0 517.2 846.0 518.1 848.0 520.0 850.0 519.8 852.2 520.4 854.3 520.4 856.5 520.4 858.6 519.7 860.8 519.6 862.9 519.5 865.1 520.0 867.2 519.8 869.4 520.0 871.5 520.0 873.7" class="c"/>
<path d="M308.7 574.3 310.2 574.5 311.3 574.8 312.2 575.0 315.1 574.4 315.7 574.9 318.0 575.0 316.0 575.3 314.1 575.3 314.4 575.6 312.4 576.3 310.0 576.3 310.6 578.0 310.5 579.7 311.6 581.0 310.8 582.0 308.7 583.7 309.3 586.3 308.4 587.6 306.2 589.1 307.3 590.0 303.9 590.9 304.0 591.7 304.3 592.2 307.4 592.3 308.7 592.3 310.3 593.1 312.0 593.7 311.0 594.5 308.7 595.7 307.1 597.3 306.3 598.7 307.3 599.7 306.4 601.1 306.1 603.5 308.0 605.0 309.5 606.9 307.3 609.0 306.8 609.7 306.7 610.9 304.0 611.7 304.3 611.6 307.3 612.3 309.4 612.9 310.0 614.3 310.3 615.5 308.0 617.0 308.5 617.5 310.4 617.9 312.7 618.3 310.0 619.3 310.0 619.7 308.0 620.5 305.9 621.0 307.9 621.2 302.8 621.7 303.3 622.3 302.4 622.2 300.6 622.2 298.9 622.8 297.3 622.9 294.6 623.1 294.7 623.0 294.6 623.5 299.6 623.6 299.2 623.3 299.9 623.8 302.0 623.7 303.5 624.1 303.4 623.8 308.0 624.0 308.2 623.7 308.1 623.9 312.6 624.4 311.4 624.6 314.0 624.3 310.8 625.0 313.2 625.5 310.0 626.3 310.8 627.8 308.0 629.0 306.0 630.6 307.3 632.3 307.3 634.3 307.2 635.1 306.3 636.3 302.4 637.6 301.4 638.7 302.0 639.7 304.8 640.2 305.0 640.1 306.9 640.6 309.0 641.0 310.0 641.7 311.7 642.6 312.7 643.7 310.7 644.0 308.5 643.9 310.1 644.2 308.3 644.9 305.4 644.5 304.0 645.0 303.8 645.7 305.3 645.8 308.3 645.9 309.5 646.3 311.0 647.0 310.1 648.5 309.0 650.0 307.8 651.4 307.3 653.1 307.0 655.0 304.3 655.8 306.2 657.0 303.5 658.0 305.8 659.1 305.0 661.0 305.4 661.6 303.4 662.3 301.6 662.6 300.4 663.1 298.0 664.0 298.1 664.6 300.0 666.0 298.1 667.0 296.2 668.3 295.5 669.0 294.0 670.7 294.8 672.4 296.0 674.0 298.5 675.2 296.9 675.8 300.0 677.0 302.1 677.9 301.5 678.1 305.0 678.5 304.4 679.1 301.6 679.5 300.7 680.0 299.5 680.0 297.2 682.0 298.5 683.3 298.5 685.0 297.2 686.5 300.1 688.5 299.5 690.0 299.3 691.2 300.4 692.4 303.0 694.0 303.6 694.6 306.5 695.5 307.5 697.0 305.9 697.7 303.8 699.0 304.5 700.1 302.0 701.0 303.9 701.4 305.2 702.6 306.0 703.0 308.5 703.7 309.5 704.9 310.0 706.0 310.1 706.9 313.7 707.2 313.0 707.8 316.0 708.0 315.7 708.8 312.0 709.0 311.6 709.6 310.4 709.6 307.5 710.1 307.4 710.4 304.1 710.8 303.6 711.1 302.0 711.0 302.0 711.5 306.1 711.1 307.9 711.3 306.8 711.6 308.4 711.8 311.0 712.0 312.1 713.6 310.8 714.9 310.6 716.7 309.0 718.0 310.6 719.7 312.0 720.6 311.5 722.0 309.1 723.7 311.3 725.0 309.2 726.7 309.4 728.4 310.1 729.2 308.7 730.7 308.6 732.5 307.2 734.2 308.6 735.5 308.9 736.7 309.2 738.3 308.4 739.6 311.3 741.2 309.4 742.2 309.7 744.1 311.0 745.3 309.7 746.4 310.1 746.9 308.6 747.8 308.1 748.8 305.7 750.0 303.3 750.8 302.2 750.7 302.8 751.4 299.8 751.8 302.8 751.9 302.6 752.6 304.0 752.9 304.2 752.9 305.4 752.9 306.2 752.9 311.4 753.3 312.2 753.4 311.8 753.5 313.8 754.0 312.6 754.9 311.1 755.1 311.3 756.1 308.9 756.1 307.3 757.0 307.2 757.5 304.6 758.3 302.1 758.8 301.9 759.7 299.8 760.0 301.2 760.2 304.5 760.2 305.3 761.0 305.6 761.1 307.8 761.7 309.1 761.9 307.7 761.8 309.5 762.6 314.0 762.2 313.8 762.8 312.7 763.2 309.1 763.3 310.4 763.8 307.1 764.2 305.7 764.3 304.8 765.0 304.2 765.1 302.2 765.2 304.1 765.9 306.4 766.9 306.5 767.4 305.5 768.4 309.3 769.3 308.6 769.6 310.4 770.9 310.2 771.6 312.7 772.2 310.2 773.0 308.6 774.0 308.7 775.6 309.9 775.9 306.1 777.6 304.5 778.1 304.5 779.2 306.0 780.0 308.0 781.5 305.9 782.4 305.2 783.8 303.6 784.1 305.0 785.2 302.2 786.2 304.9 787.0 306.0 787.4 304.8 788.4 307.4 788.9 309.5 789.7 309.3 790.0 311.5 790.8 311.5 791.4 307.4 792.0 305.7 792.7 305.0 793.0 304.5 794.2 307.9 794.7 310.7 795.6 310.3 796.7 307.8 796.9 307.6 798.1 306.7 798.4 304.5 799.0 307.1 799.4 306.5 800.5 310.5 801.1 310.0 801.7 309.3 802.4 306.7 803.1 306.6 803.1 303.7 804.0 302.7 804.3 303.6 804.7 307.2 805.7 307.3 806.5 308.7 807.0 309.3 808.1 306.7 809.7 306.7 810.7 307.7 812.4 308.7 813.7 308.6 814.2 306.0 814.3 304.5 814.5 302.7 815.0 302.9 816.1 301.7 816.4 299.9 817.7 298.0 818.3 299.2 819.5 301.9 820.2 302.8 821.0 302.7 821.7 305.5 822.1 306.2 823.2 307.1 823.5 308.0 824.3 306.3 826.0 309.3 827.3 306.9 828.9 306.4 830.8 308.0 832.3 310.7 833.9 309.0 835.1 308.7 836.6 310.5 837.3 312.0 839.0 313.5 840.0 313.1 841.3 314.8 843.0 316.0 844.3 318.3 845.0 319.4 846.1 318.1 847.6 319.6 848.5 321.3 849.7 322.0 851.2 323.4 853.0 322.7 855.0 324.2 856.8 323.0 857.7 324.1 859.3 323.1 861.1 321.5 862.9 323.3 864.3 324.3 865.9 323.1 867.4 324.0 868.8 325.2 871.0 325.1 872.5 324.0 873.7" class="cn"/>
<path d="M325.3 573.7 325.3 576.4 326.0 578.3 324.7 580.0 324.5 581.6 325.4 583.5 324.7 585.0 323.3 586.2 321.3 587.6 320.2 588.7 319.3 590.3 321.8 591.0 323.3 591.7 322.7 593.1 322.7 594.8 321.3 596.7 321.3 598.3 321.2 600.4 320.8 602.0 320.7 603.5 319.3 605.0 320.5 606.7 320.7 609.0 318.4 609.6 317.3 611.0 319.0 612.7 319.4 613.9 320.0 615.7 318.3 616.7 317.3 618.3 317.2 620.5 316.0 621.5 316.0 623.7 314.6 625.6 314.7 627.7 314.6 629.9 312.7 631.7 311.3 632.7 310.0 634.3 309.5 635.9 311.3 638.1 311.0 640.0 311.7 642.0 311.0 643.3 310.7 644.7 308.8 646.7 309.4 648.1 309.0 650.0 308.5 651.3 310.1 653.5 310.2 655.4 309.2 656.9 309.2 658.6 309.5 660.0 310.2 661.3 308.3 663.0 309.5 664.8 308.2 666.8 309.8 668.1 308.1 670.1 309.1 671.0 309.0 673.0 310.1 674.1 312.0 675.0 312.3 676.7 311.3 678.1 310.5 680.0 310.4 682.0 311.2 683.0 312.0 685.0 312.2 686.4 311.3 688.3 312.2 690.1 312.5 691.6 311.0 693.5 312.0 695.0 311.2 696.6 312.1 698.5 312.5 700.0 312.3 701.8 311.5 704.2 310.5 706.0 311.2 707.2 312.9 709.1 311.8 710.3 314.6 711.8 314.0 713.7 315.0 715.0 315.7 716.7 315.5 717.9 314.1 720.3 315.7 721.2 315.0 723.2 315.2 724.7 317.3 726.7 318.3 728.1 317.9 730.4 317.9 732.0 317.2 733.1 316.7 735.2 317.0 737.0 318.0 738.3 318.8 739.9 319.4 741.8 319.0 743.6 320.0 746.1 319.7 747.7 321.0 748.9 321.2 751.0 321.4 752.6 321.3 754.3 321.4 755.8 321.9 757.4 320.0 759.8 320.8 761.7 320.8 763.4 320.6 765.4 321.1 767.2 322.6 768.7 323.4 770.4 322.0 772.3 322.3 773.9 322.1 776.1 323.2 777.3 323.2 779.2 322.8 781.0 324.9 782.7 323.7 784.0 324.6 785.9 325.5 787.3 325.5 789.1 328.0 791.0 326.6 792.2 328.4 794.3 327.2 796.0 327.9 797.4 327.3 799.0 329.0 799.8 331.1 800.9 332.7 801.7 332.5 803.2 331.1 804.7 329.3 805.7 331.2 807.6 330.5 809.4 332.7 811.0 333.1 812.6 332.8 814.1 332.6 816.0 331.3 817.7 332.3 819.1 331.9 820.8 332.5 822.2 333.3 824.5 334.0 825.7 333.9 827.8 333.7 829.5 332.7 831.0 334.7 832.8 334.0 834.0 335.3 835.4 335.8 837.7 337.3 839.0 339.2 840.2 339.9 841.9 341.2 843.2 341.3 844.3 342.3 845.3 343.8 846.8 344.0 848.3 342.5 848.5 340.4 849.4 337.8 849.4 336.7 849.7 338.8 850.1 341.2 850.3 342.9 850.8 344.7 850.7 344.8 851.2 348.1 851.3 348.4 852.1 350.7 852.3 351.3 853.6 349.7 855.6 349.8 857.2 349.5 858.4 347.9 859.8 348.0 861.7 348.1 863.1 346.8 865.4 347.3 866.7 346.7 868.3 347.2 870.2 347.5 871.7 347.3 873.7" class="cn"/>
<line x1="289.7" y1="605.2" x2="306.7" y2="605.2" class="dash"/>
<circle cx="289.7" cy="605.2" r="2.3"/>
<line x1="369.0" y1="817.6" x2="377.0" y2="817.6" class="thin"/>
<circle cx="369.0" cy="817.6" r="2.3"/>
<line x1="396.0" y1="753.6" x2="407.0" y2="753.6" class="dash"/>
<circle cx="396.0" cy="753.6" r="2.3"/>
<line x1="446.0" y1="821.4" x2="439.0" y2="821.4" class="thin"/>
<circle cx="446.0" cy="821.4" r="2.3"/>
<line x1="485.6" y1="797.6" x2="490.0" y2="797.6" class="thin"/>
<circle cx="485.6" cy="797.6" r="2.3"/>
<line x1="143.6" y1="855.0" x2="167.3" y2="855.0" class="thin"/>
<circle cx="143.6" cy="855.0" r="2.3"/>
<line x1="297.0" y1="889.0" x2="302.0" y2="889.0" class="thin"/>
<circle cx="297.0" cy="889.0" r="2.3"/>
<circle cx="386" cy="547.6" r="1"/>
</svg>
</body></html>
